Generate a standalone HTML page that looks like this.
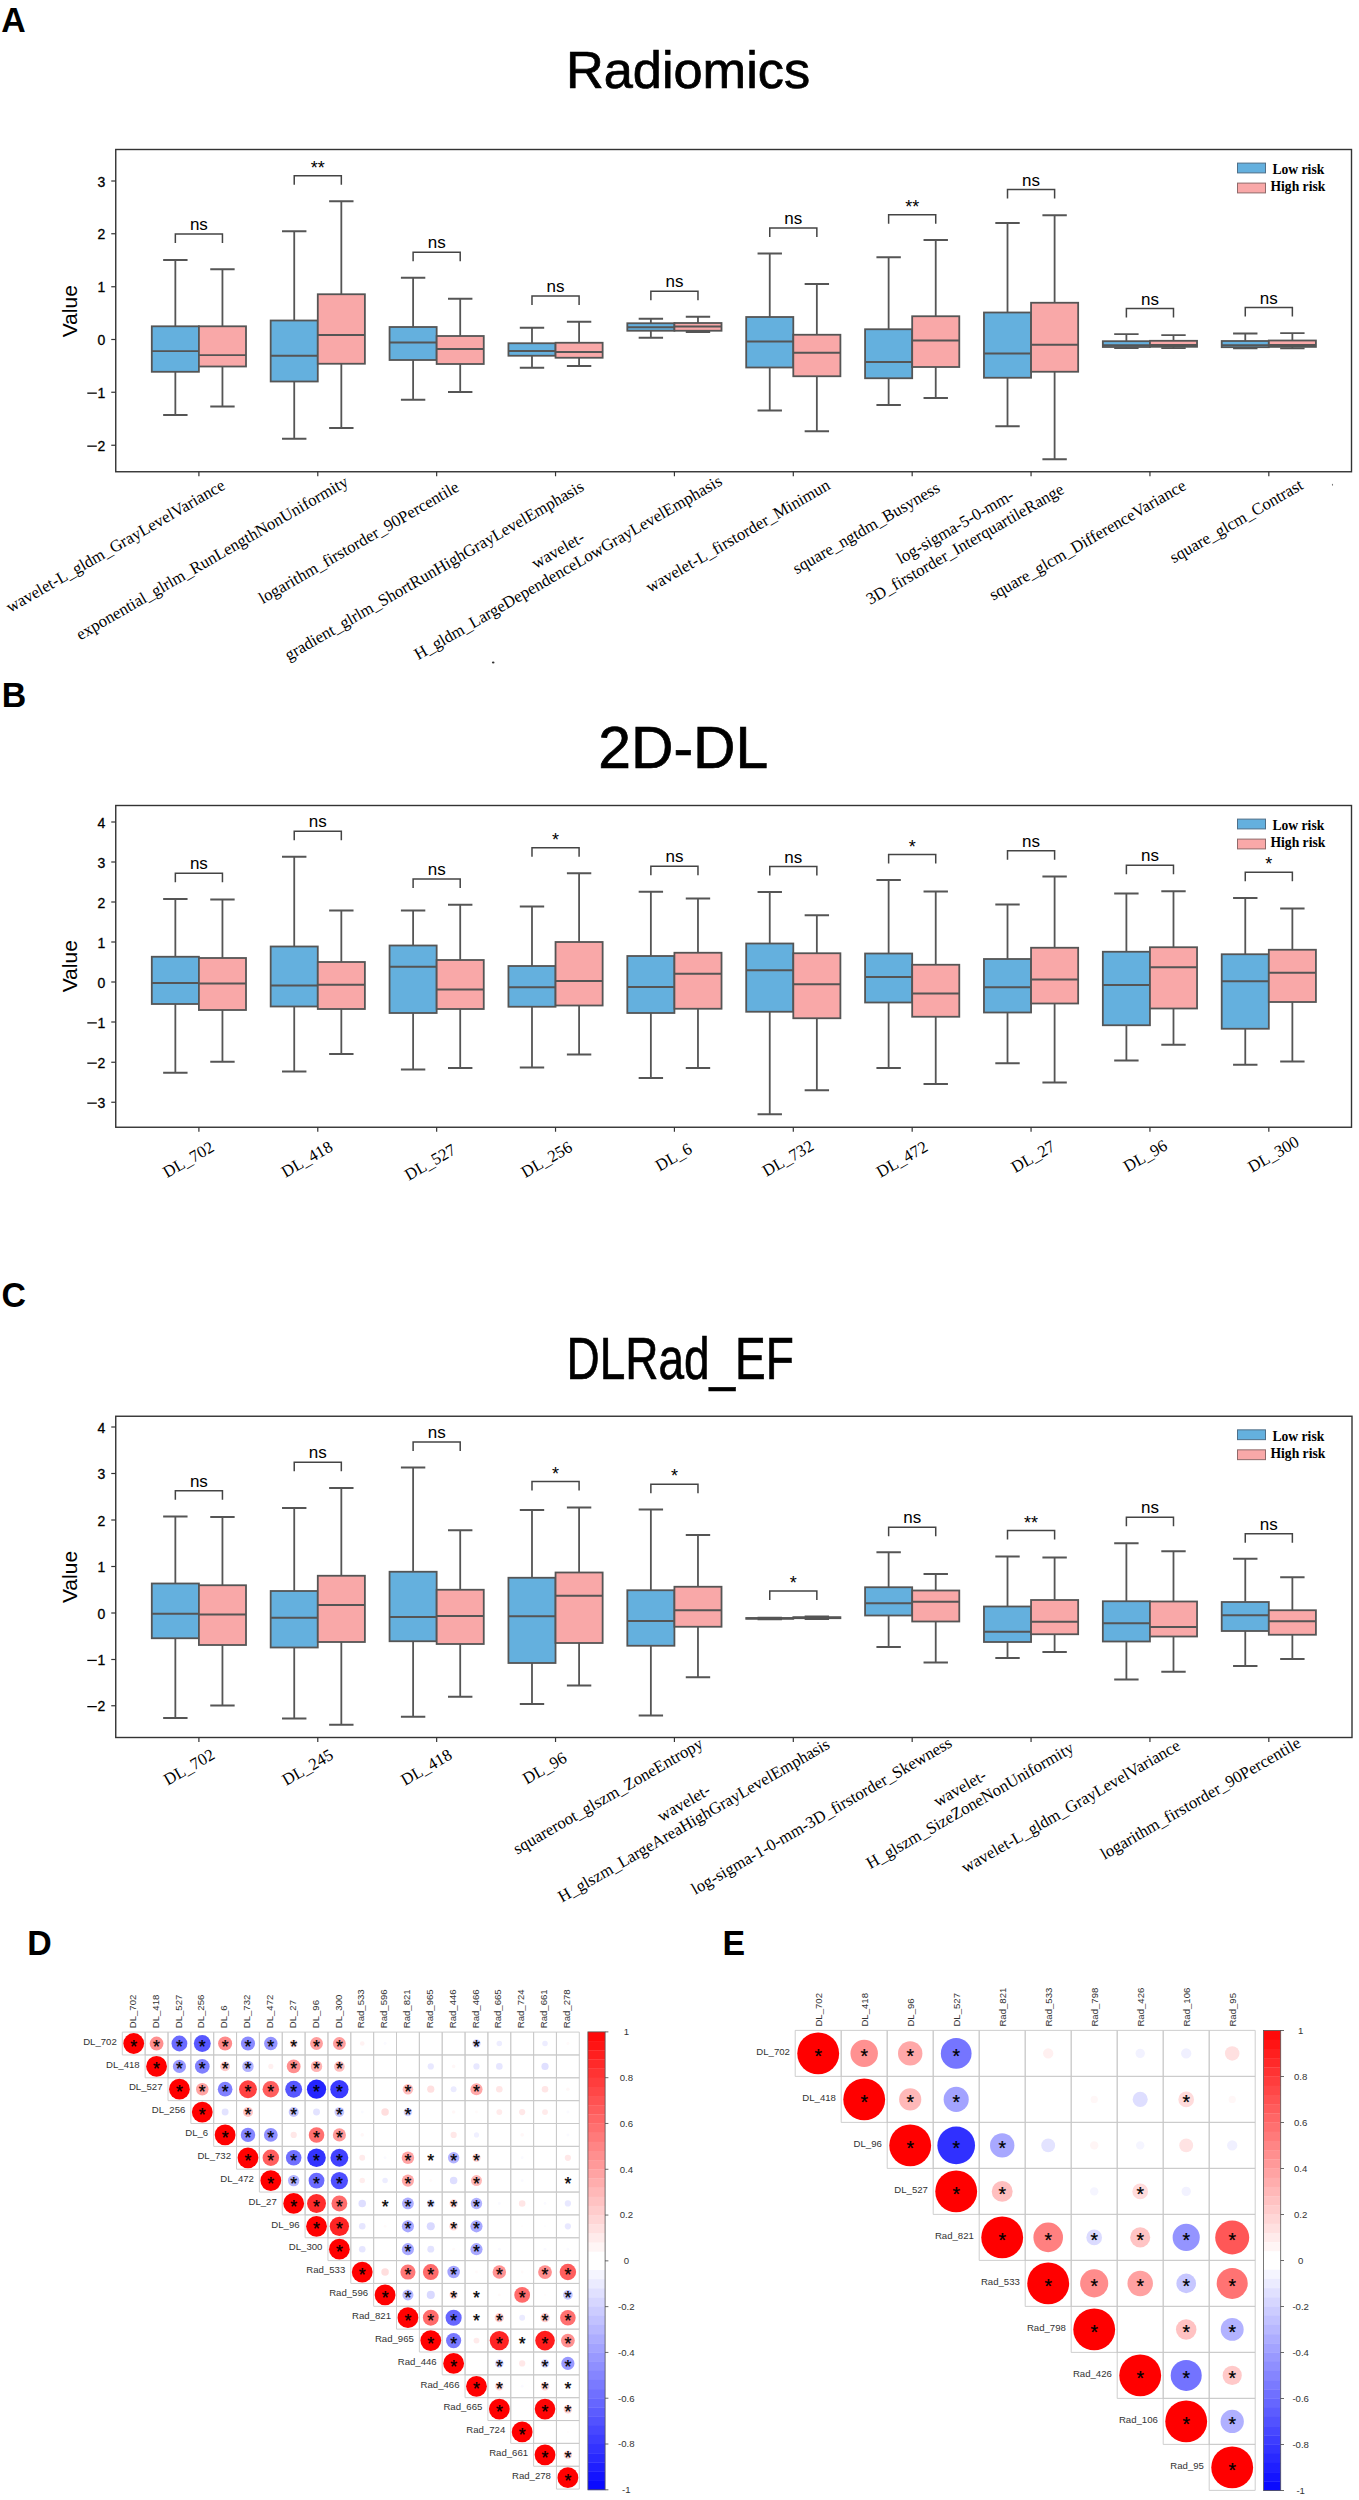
<!DOCTYPE html>
<html><head><meta charset="utf-8"><style>
html,body{margin:0;padding:0;background:#fff;}
svg{display:block;}
</style></head><body>
<svg width="1359" height="2500" viewBox="0 0 1359 2500">
<rect width="1359" height="2500" fill="#fff"/>
<path d="M175.35 326.3V260M163.15 260H187.55M175.35 371.8V415M163.15 415H187.55" stroke="#555555" stroke-width="1.8" fill="none"/><rect x="151.8" y="326.3" width="47.1" height="45.5" fill="#64B0DE" stroke="#555555" stroke-width="1.8"/><path d="M151.8 351.1H198.9" stroke="#555555" stroke-width="1.8"/>
<path d="M222.45 326.3V269.25M210.25 269.25H234.65M222.45 366.5V406.5M210.25 406.5H234.65" stroke="#555555" stroke-width="1.8" fill="none"/><rect x="198.9" y="326.3" width="47.1" height="40.2" fill="#F9A8A8" stroke="#555555" stroke-width="1.8"/><path d="M198.9 355.2H246" stroke="#555555" stroke-width="1.8"/>
<path d="M175.35 243V234H222.45V243" stroke="#444" stroke-width="1.5" fill="none"/>
<text x="198.9" y="230" text-anchor="middle" font-size="17" font-family='"Liberation Sans", sans-serif'>ns</text>
<path d="M294.23 320.5V231.25M282.03 231.25H306.43M294.23 381.5V438.75M282.03 438.75H306.43" stroke="#555555" stroke-width="1.8" fill="none"/><rect x="270.68" y="320.5" width="47.1" height="61" fill="#64B0DE" stroke="#555555" stroke-width="1.8"/><path d="M270.68 355.75H317.78" stroke="#555555" stroke-width="1.8"/>
<path d="M341.33 294.25V201.25M329.13 201.25H353.53M341.33 363.75V428M329.13 428H353.53" stroke="#555555" stroke-width="1.8" fill="none"/><rect x="317.78" y="294.25" width="47.1" height="69.5" fill="#F9A8A8" stroke="#555555" stroke-width="1.8"/><path d="M317.78 335H364.88" stroke="#555555" stroke-width="1.8"/>
<path d="M294.23 184.75V175.75H341.33V184.75" stroke="#444" stroke-width="1.5" fill="none"/>
<text x="317.78" y="173.95" text-anchor="middle" font-size="18" font-family='"Liberation Sans", sans-serif'>**</text>
<path d="M413.11 327V277.75M400.91 277.75H425.31M413.11 360V399.75M400.91 399.75H425.31" stroke="#555555" stroke-width="1.8" fill="none"/><rect x="389.56" y="327" width="47.1" height="33" fill="#64B0DE" stroke="#555555" stroke-width="1.8"/><path d="M389.56 342.5H436.66" stroke="#555555" stroke-width="1.8"/>
<path d="M460.21 336V298.75M448.01 298.75H472.41M460.21 364V392M448.01 392H472.41" stroke="#555555" stroke-width="1.8" fill="none"/><rect x="436.66" y="336" width="47.1" height="28" fill="#F9A8A8" stroke="#555555" stroke-width="1.8"/><path d="M436.66 349H483.76" stroke="#555555" stroke-width="1.8"/>
<path d="M413.11 261.25V252.25H460.21V261.25" stroke="#444" stroke-width="1.5" fill="none"/>
<text x="436.66" y="248.25" text-anchor="middle" font-size="17" font-family='"Liberation Sans", sans-serif'>ns</text>
<path d="M531.99 343.25V327.75M519.79 327.75H544.19M531.99 355.75V367.75M519.79 367.75H544.19" stroke="#555555" stroke-width="1.8" fill="none"/><rect x="508.44" y="343.25" width="47.1" height="12.5" fill="#64B0DE" stroke="#555555" stroke-width="1.8"/><path d="M508.44 351H555.54" stroke="#555555" stroke-width="1.8"/>
<path d="M579.09 342.75V321.75M566.89 321.75H591.29M579.09 357.75V366M566.89 366H591.29" stroke="#555555" stroke-width="1.8" fill="none"/><rect x="555.54" y="342.75" width="47.1" height="15" fill="#F9A8A8" stroke="#555555" stroke-width="1.8"/><path d="M555.54 352H602.64" stroke="#555555" stroke-width="1.8"/>
<path d="M531.99 305V296H579.09V305" stroke="#444" stroke-width="1.5" fill="none"/>
<text x="555.54" y="292" text-anchor="middle" font-size="17" font-family='"Liberation Sans", sans-serif'>ns</text>
<path d="M650.87 323.25V318.75M638.67 318.75H663.07M650.87 330.75V337.75M638.67 337.75H663.07" stroke="#555555" stroke-width="1.8" fill="none"/><rect x="627.32" y="323.25" width="47.1" height="7.5" fill="#64B0DE" stroke="#555555" stroke-width="1.8"/><path d="M627.32 327.25H674.42" stroke="#555555" stroke-width="1.8"/>
<path d="M697.97 323V316.75M685.77 316.75H710.17M697.97 330.75V332M685.77 332H710.17" stroke="#555555" stroke-width="1.8" fill="none"/><rect x="674.42" y="323" width="47.1" height="7.75" fill="#F9A8A8" stroke="#555555" stroke-width="1.8"/><path d="M674.42 326.5H721.52" stroke="#555555" stroke-width="1.8"/>
<path d="M650.87 300.25V291.25H697.97V300.25" stroke="#444" stroke-width="1.5" fill="none"/>
<text x="674.42" y="287.25" text-anchor="middle" font-size="17" font-family='"Liberation Sans", sans-serif'>ns</text>
<path d="M769.75 317V253.5M757.55 253.5H781.95M769.75 367.5V410.5M757.55 410.5H781.95" stroke="#555555" stroke-width="1.8" fill="none"/><rect x="746.2" y="317" width="47.1" height="50.5" fill="#64B0DE" stroke="#555555" stroke-width="1.8"/><path d="M746.2 341.5H793.3" stroke="#555555" stroke-width="1.8"/>
<path d="M816.85 334.75V284M804.65 284H829.05M816.85 376.25V431.25M804.65 431.25H829.05" stroke="#555555" stroke-width="1.8" fill="none"/><rect x="793.3" y="334.75" width="47.1" height="41.5" fill="#F9A8A8" stroke="#555555" stroke-width="1.8"/><path d="M793.3 352.75H840.4" stroke="#555555" stroke-width="1.8"/>
<path d="M769.75 237V228H816.85V237" stroke="#444" stroke-width="1.5" fill="none"/>
<text x="793.3" y="224" text-anchor="middle" font-size="17" font-family='"Liberation Sans", sans-serif'>ns</text>
<path d="M888.63 329.25V257.25M876.43 257.25H900.83M888.63 378.25V405M876.43 405H900.83" stroke="#555555" stroke-width="1.8" fill="none"/><rect x="865.08" y="329.25" width="47.1" height="49" fill="#64B0DE" stroke="#555555" stroke-width="1.8"/><path d="M865.08 362H912.18" stroke="#555555" stroke-width="1.8"/>
<path d="M935.73 316.25V240M923.53 240H947.93M935.73 367V398M923.53 398H947.93" stroke="#555555" stroke-width="1.8" fill="none"/><rect x="912.18" y="316.25" width="47.1" height="50.75" fill="#F9A8A8" stroke="#555555" stroke-width="1.8"/><path d="M912.18 340.5H959.28" stroke="#555555" stroke-width="1.8"/>
<path d="M888.63 223.75V214.75H935.73V223.75" stroke="#444" stroke-width="1.5" fill="none"/>
<text x="912.18" y="212.95" text-anchor="middle" font-size="18" font-family='"Liberation Sans", sans-serif'>**</text>
<path d="M1007.51 312.5V223M995.31 223H1019.71M1007.51 377.75V426.25M995.31 426.25H1019.71" stroke="#555555" stroke-width="1.8" fill="none"/><rect x="983.96" y="312.5" width="47.1" height="65.25" fill="#64B0DE" stroke="#555555" stroke-width="1.8"/><path d="M983.96 353.5H1031.06" stroke="#555555" stroke-width="1.8"/>
<path d="M1054.61 302.75V215.25M1042.41 215.25H1066.81M1054.61 371.75V459.25M1042.41 459.25H1066.81" stroke="#555555" stroke-width="1.8" fill="none"/><rect x="1031.06" y="302.75" width="47.1" height="69" fill="#F9A8A8" stroke="#555555" stroke-width="1.8"/><path d="M1031.06 344.75H1078.16" stroke="#555555" stroke-width="1.8"/>
<path d="M1007.51 198.5V189.5H1054.61V198.5" stroke="#444" stroke-width="1.5" fill="none"/>
<text x="1031.06" y="185.5" text-anchor="middle" font-size="17" font-family='"Liberation Sans", sans-serif'>ns</text>
<path d="M1126.39 341.2V334.1M1114.19 334.1H1138.59M1126.39 347V348.2M1114.19 348.2H1138.59" stroke="#555555" stroke-width="1.8" fill="none"/><rect x="1102.84" y="341.2" width="47.1" height="5.8" fill="#64B0DE" stroke="#555555" stroke-width="1.8"/><path d="M1102.84 345.2H1149.94" stroke="#555555" stroke-width="1.8"/>
<path d="M1173.49 340.8V335.1M1161.29 335.1H1185.69M1173.49 346.8V348.2M1161.29 348.2H1185.69" stroke="#555555" stroke-width="1.8" fill="none"/><rect x="1149.94" y="340.8" width="47.1" height="6" fill="#F9A8A8" stroke="#555555" stroke-width="1.8"/><path d="M1149.94 345H1197.04" stroke="#555555" stroke-width="1.8"/>
<path d="M1126.39 317.5V308.5H1173.49V317.5" stroke="#444" stroke-width="1.5" fill="none"/>
<text x="1149.94" y="304.5" text-anchor="middle" font-size="17" font-family='"Liberation Sans", sans-serif'>ns</text>
<path d="M1245.27 341V333.5M1233.07 333.5H1257.47M1245.27 347.2V348.4M1233.07 348.4H1257.47" stroke="#555555" stroke-width="1.8" fill="none"/><rect x="1221.72" y="341" width="47.1" height="6.2" fill="#64B0DE" stroke="#555555" stroke-width="1.8"/><path d="M1221.72 345.2H1268.82" stroke="#555555" stroke-width="1.8"/>
<path d="M1292.37 340.5V333.1M1280.17 333.1H1304.57M1292.37 346.9V348.4M1280.17 348.4H1304.57" stroke="#555555" stroke-width="1.8" fill="none"/><rect x="1268.82" y="340.5" width="47.1" height="6.4" fill="#F9A8A8" stroke="#555555" stroke-width="1.8"/><path d="M1268.82 345H1315.92" stroke="#555555" stroke-width="1.8"/>
<path d="M1245.27 316.5V307.5H1292.37V316.5" stroke="#444" stroke-width="1.5" fill="none"/>
<text x="1268.82" y="303.5" text-anchor="middle" font-size="17" font-family='"Liberation Sans", sans-serif'>ns</text>
<rect x="115.75" y="149.5" width="1235.75" height="322.25" fill="none" stroke="#333333" stroke-width="1.4"/>
<path d="M198.9 471.75v4.5" stroke="#333333" stroke-width="1.2"/>
<path d="M317.78 471.75v4.5" stroke="#333333" stroke-width="1.2"/>
<path d="M436.66 471.75v4.5" stroke="#333333" stroke-width="1.2"/>
<path d="M555.54 471.75v4.5" stroke="#333333" stroke-width="1.2"/>
<path d="M674.42 471.75v4.5" stroke="#333333" stroke-width="1.2"/>
<path d="M793.3 471.75v4.5" stroke="#333333" stroke-width="1.2"/>
<path d="M912.18 471.75v4.5" stroke="#333333" stroke-width="1.2"/>
<path d="M1031.06 471.75v4.5" stroke="#333333" stroke-width="1.2"/>
<path d="M1149.94 471.75v4.5" stroke="#333333" stroke-width="1.2"/>
<path d="M1268.82 471.75v4.5" stroke="#333333" stroke-width="1.2"/>
<path d="M115.75 181h-4.5" stroke="#333333" stroke-width="1.2"/>
<text x="105.3" y="186.5" text-anchor="end" font-size="14" stroke="#000" stroke-width="0.3" font-family='"Liberation Sans", sans-serif'>3</text>
<path d="M115.75 233.75h-4.5" stroke="#333333" stroke-width="1.2"/>
<text x="105.3" y="239.25" text-anchor="end" font-size="14" stroke="#000" stroke-width="0.3" font-family='"Liberation Sans", sans-serif'>2</text>
<path d="M115.75 286.75h-4.5" stroke="#333333" stroke-width="1.2"/>
<text x="105.3" y="292.25" text-anchor="end" font-size="14" stroke="#000" stroke-width="0.3" font-family='"Liberation Sans", sans-serif'>1</text>
<path d="M115.75 339.5h-4.5" stroke="#333333" stroke-width="1.2"/>
<text x="105.3" y="345" text-anchor="end" font-size="14" stroke="#000" stroke-width="0.3" font-family='"Liberation Sans", sans-serif'>0</text>
<path d="M115.75 392.25h-4.5" stroke="#333333" stroke-width="1.2"/>
<text x="105.3" y="397.75" text-anchor="end" font-size="14" stroke="#000" stroke-width="0.3" font-family='"Liberation Sans", sans-serif'>1</text>
<path d="M87.3 393.15H96.8" stroke="#000" stroke-width="1.3"/>
<path d="M115.75 445.25h-4.5" stroke="#333333" stroke-width="1.2"/>
<text x="105.3" y="450.75" text-anchor="end" font-size="14" stroke="#000" stroke-width="0.3" font-family='"Liberation Sans", sans-serif'>2</text>
<path d="M87.3 446.15H96.8" stroke="#000" stroke-width="1.3"/>
<text transform="translate(77.3 311.25) rotate(-90)" text-anchor="middle" font-size="21" font-family='"Liberation Sans", sans-serif'>Value</text>
<rect x="1237.5" y="163.1" width="28" height="9.8" fill="#64B0DE" stroke="#4f6f88" stroke-width="1"/>
<rect x="1237.5" y="183.1" width="28" height="9.8" fill="#F9A8A8" stroke="#8f6a6a" stroke-width="1"/>
<text x="1272.5" y="174.3" font-size="13.6" font-weight="bold" font-family='"Liberation Serif", serif'>Low risk</text>
<text x="1270.5" y="191.1" font-size="13.6" font-weight="bold" font-family='"Liberation Serif", serif'>High risk</text>
<text transform="translate(688 87.9) scale(1.016 1)" text-anchor="middle" font-size="51.5" stroke="#000" stroke-width="0.7" font-family='"Liberation Sans", sans-serif'>Radiomics</text>
<text transform="translate(1.2 31.5) scale(0.96 1)" font-size="35.3" font-weight="bold" font-family='"Liberation Sans", sans-serif'>A</text>
<path d="M175.35 956.75V899M163.15 899H187.55M175.35 1004V1072.75M163.15 1072.75H187.55" stroke="#555555" stroke-width="1.8" fill="none"/><rect x="151.8" y="956.75" width="47.1" height="47.25" fill="#64B0DE" stroke="#555555" stroke-width="1.8"/><path d="M151.8 983H198.9" stroke="#555555" stroke-width="1.8"/>
<path d="M222.45 958V899.5M210.25 899.5H234.65M222.45 1010V1061.75M210.25 1061.75H234.65" stroke="#555555" stroke-width="1.8" fill="none"/><rect x="198.9" y="958" width="47.1" height="52" fill="#F9A8A8" stroke="#555555" stroke-width="1.8"/><path d="M198.9 983.5H246" stroke="#555555" stroke-width="1.8"/>
<path d="M175.35 882.25V873.25H222.45V882.25" stroke="#444" stroke-width="1.5" fill="none"/>
<text x="198.9" y="869.25" text-anchor="middle" font-size="17" font-family='"Liberation Sans", sans-serif'>ns</text>
<path d="M294.23 946.5V856.75M282.03 856.75H306.43M294.23 1006.5V1071.5M282.03 1071.5H306.43" stroke="#555555" stroke-width="1.8" fill="none"/><rect x="270.68" y="946.5" width="47.1" height="60" fill="#64B0DE" stroke="#555555" stroke-width="1.8"/><path d="M270.68 985.5H317.78" stroke="#555555" stroke-width="1.8"/>
<path d="M341.33 962V910.5M329.13 910.5H353.53M341.33 1009V1054M329.13 1054H353.53" stroke="#555555" stroke-width="1.8" fill="none"/><rect x="317.78" y="962" width="47.1" height="47" fill="#F9A8A8" stroke="#555555" stroke-width="1.8"/><path d="M317.78 984.75H364.88" stroke="#555555" stroke-width="1.8"/>
<path d="M294.23 840.25V831.25H341.33V840.25" stroke="#444" stroke-width="1.5" fill="none"/>
<text x="317.78" y="827.25" text-anchor="middle" font-size="17" font-family='"Liberation Sans", sans-serif'>ns</text>
<path d="M413.11 945.5V910.5M400.91 910.5H425.31M413.11 1013V1069.5M400.91 1069.5H425.31" stroke="#555555" stroke-width="1.8" fill="none"/><rect x="389.56" y="945.5" width="47.1" height="67.5" fill="#64B0DE" stroke="#555555" stroke-width="1.8"/><path d="M389.56 966.75H436.66" stroke="#555555" stroke-width="1.8"/>
<path d="M460.21 960V904.75M448.01 904.75H472.41M460.21 1009V1068M448.01 1068H472.41" stroke="#555555" stroke-width="1.8" fill="none"/><rect x="436.66" y="960" width="47.1" height="49" fill="#F9A8A8" stroke="#555555" stroke-width="1.8"/><path d="M436.66 989.5H483.76" stroke="#555555" stroke-width="1.8"/>
<path d="M413.11 888V879H460.21V888" stroke="#444" stroke-width="1.5" fill="none"/>
<text x="436.66" y="875" text-anchor="middle" font-size="17" font-family='"Liberation Sans", sans-serif'>ns</text>
<path d="M531.99 966V906.5M519.79 906.5H544.19M531.99 1006.75V1067.5M519.79 1067.5H544.19" stroke="#555555" stroke-width="1.8" fill="none"/><rect x="508.44" y="966" width="47.1" height="40.75" fill="#64B0DE" stroke="#555555" stroke-width="1.8"/><path d="M508.44 987.25H555.54" stroke="#555555" stroke-width="1.8"/>
<path d="M579.09 942V873.25M566.89 873.25H591.29M579.09 1005.5V1054.5M566.89 1054.5H591.29" stroke="#555555" stroke-width="1.8" fill="none"/><rect x="555.54" y="942" width="47.1" height="63.5" fill="#F9A8A8" stroke="#555555" stroke-width="1.8"/><path d="M555.54 981H602.64" stroke="#555555" stroke-width="1.8"/>
<path d="M531.99 856.75V847.75H579.09V856.75" stroke="#444" stroke-width="1.5" fill="none"/>
<text x="555.54" y="845.95" text-anchor="middle" font-size="18" font-family='"Liberation Sans", sans-serif'>*</text>
<path d="M650.87 956V891.75M638.67 891.75H663.07M650.87 1013V1078M638.67 1078H663.07" stroke="#555555" stroke-width="1.8" fill="none"/><rect x="627.32" y="956" width="47.1" height="57" fill="#64B0DE" stroke="#555555" stroke-width="1.8"/><path d="M627.32 987H674.42" stroke="#555555" stroke-width="1.8"/>
<path d="M697.97 952.75V898.5M685.77 898.5H710.17M697.97 1008.75V1068M685.77 1068H710.17" stroke="#555555" stroke-width="1.8" fill="none"/><rect x="674.42" y="952.75" width="47.1" height="56" fill="#F9A8A8" stroke="#555555" stroke-width="1.8"/><path d="M674.42 973.75H721.52" stroke="#555555" stroke-width="1.8"/>
<path d="M650.87 875.25V866.25H697.97V875.25" stroke="#444" stroke-width="1.5" fill="none"/>
<text x="674.42" y="862.25" text-anchor="middle" font-size="17" font-family='"Liberation Sans", sans-serif'>ns</text>
<path d="M769.75 943.5V892M757.55 892H781.95M769.75 1011.75V1114.25M757.55 1114.25H781.95" stroke="#555555" stroke-width="1.8" fill="none"/><rect x="746.2" y="943.5" width="47.1" height="68.25" fill="#64B0DE" stroke="#555555" stroke-width="1.8"/><path d="M746.2 970.25H793.3" stroke="#555555" stroke-width="1.8"/>
<path d="M816.85 953.25V915.25M804.65 915.25H829.05M816.85 1018.25V1090.25M804.65 1090.25H829.05" stroke="#555555" stroke-width="1.8" fill="none"/><rect x="793.3" y="953.25" width="47.1" height="65" fill="#F9A8A8" stroke="#555555" stroke-width="1.8"/><path d="M793.3 984.25H840.4" stroke="#555555" stroke-width="1.8"/>
<path d="M769.75 875.5V866.5H816.85V875.5" stroke="#444" stroke-width="1.5" fill="none"/>
<text x="793.3" y="862.5" text-anchor="middle" font-size="17" font-family='"Liberation Sans", sans-serif'>ns</text>
<path d="M888.63 953.5V880M876.43 880H900.83M888.63 1002.5V1068M876.43 1068H900.83" stroke="#555555" stroke-width="1.8" fill="none"/><rect x="865.08" y="953.5" width="47.1" height="49" fill="#64B0DE" stroke="#555555" stroke-width="1.8"/><path d="M865.08 977H912.18" stroke="#555555" stroke-width="1.8"/>
<path d="M935.73 964.75V891.5M923.53 891.5H947.93M935.73 1016.75V1084M923.53 1084H947.93" stroke="#555555" stroke-width="1.8" fill="none"/><rect x="912.18" y="964.75" width="47.1" height="52" fill="#F9A8A8" stroke="#555555" stroke-width="1.8"/><path d="M912.18 993.5H959.28" stroke="#555555" stroke-width="1.8"/>
<path d="M888.63 863.5V854.5H935.73V863.5" stroke="#444" stroke-width="1.5" fill="none"/>
<text x="912.18" y="852.7" text-anchor="middle" font-size="18" font-family='"Liberation Sans", sans-serif'>*</text>
<path d="M1007.51 959V904.5M995.31 904.5H1019.71M1007.51 1012.5V1063.25M995.31 1063.25H1019.71" stroke="#555555" stroke-width="1.8" fill="none"/><rect x="983.96" y="959" width="47.1" height="53.5" fill="#64B0DE" stroke="#555555" stroke-width="1.8"/><path d="M983.96 987.25H1031.06" stroke="#555555" stroke-width="1.8"/>
<path d="M1054.61 947.75V876.5M1042.41 876.5H1066.81M1054.61 1003.5V1082.5M1042.41 1082.5H1066.81" stroke="#555555" stroke-width="1.8" fill="none"/><rect x="1031.06" y="947.75" width="47.1" height="55.75" fill="#F9A8A8" stroke="#555555" stroke-width="1.8"/><path d="M1031.06 979.5H1078.16" stroke="#555555" stroke-width="1.8"/>
<path d="M1007.51 859.75V850.75H1054.61V859.75" stroke="#444" stroke-width="1.5" fill="none"/>
<text x="1031.06" y="846.75" text-anchor="middle" font-size="17" font-family='"Liberation Sans", sans-serif'>ns</text>
<path d="M1126.39 951.75V893.5M1114.19 893.5H1138.59M1126.39 1025.25V1060.5M1114.19 1060.5H1138.59" stroke="#555555" stroke-width="1.8" fill="none"/><rect x="1102.84" y="951.75" width="47.1" height="73.5" fill="#64B0DE" stroke="#555555" stroke-width="1.8"/><path d="M1102.84 985H1149.94" stroke="#555555" stroke-width="1.8"/>
<path d="M1173.49 947.25V891.25M1161.29 891.25H1185.69M1173.49 1008.5V1044.75M1161.29 1044.75H1185.69" stroke="#555555" stroke-width="1.8" fill="none"/><rect x="1149.94" y="947.25" width="47.1" height="61.25" fill="#F9A8A8" stroke="#555555" stroke-width="1.8"/><path d="M1149.94 967.25H1197.04" stroke="#555555" stroke-width="1.8"/>
<path d="M1126.39 874.25V865.25H1173.49V874.25" stroke="#444" stroke-width="1.5" fill="none"/>
<text x="1149.94" y="861.25" text-anchor="middle" font-size="17" font-family='"Liberation Sans", sans-serif'>ns</text>
<path d="M1245.27 954.25V898M1233.07 898H1257.47M1245.27 1028.75V1064.75M1233.07 1064.75H1257.47" stroke="#555555" stroke-width="1.8" fill="none"/><rect x="1221.72" y="954.25" width="47.1" height="74.5" fill="#64B0DE" stroke="#555555" stroke-width="1.8"/><path d="M1221.72 981.25H1268.82" stroke="#555555" stroke-width="1.8"/>
<path d="M1292.37 949.75V908.5M1280.17 908.5H1304.57M1292.37 1002V1061.5M1280.17 1061.5H1304.57" stroke="#555555" stroke-width="1.8" fill="none"/><rect x="1268.82" y="949.75" width="47.1" height="52.25" fill="#F9A8A8" stroke="#555555" stroke-width="1.8"/><path d="M1268.82 972.75H1315.92" stroke="#555555" stroke-width="1.8"/>
<path d="M1245.27 881.25V872.25H1292.37V881.25" stroke="#444" stroke-width="1.5" fill="none"/>
<text x="1268.82" y="870.45" text-anchor="middle" font-size="18" font-family='"Liberation Sans", sans-serif'>*</text>
<rect x="115.75" y="805.5" width="1235.75" height="321.75" fill="none" stroke="#333333" stroke-width="1.4"/>
<path d="M198.9 1127.25v4.5" stroke="#333333" stroke-width="1.2"/>
<path d="M317.78 1127.25v4.5" stroke="#333333" stroke-width="1.2"/>
<path d="M436.66 1127.25v4.5" stroke="#333333" stroke-width="1.2"/>
<path d="M555.54 1127.25v4.5" stroke="#333333" stroke-width="1.2"/>
<path d="M674.42 1127.25v4.5" stroke="#333333" stroke-width="1.2"/>
<path d="M793.3 1127.25v4.5" stroke="#333333" stroke-width="1.2"/>
<path d="M912.18 1127.25v4.5" stroke="#333333" stroke-width="1.2"/>
<path d="M1031.06 1127.25v4.5" stroke="#333333" stroke-width="1.2"/>
<path d="M1149.94 1127.25v4.5" stroke="#333333" stroke-width="1.2"/>
<path d="M1268.82 1127.25v4.5" stroke="#333333" stroke-width="1.2"/>
<path d="M115.75 822h-4.5" stroke="#333333" stroke-width="1.2"/>
<text x="105.3" y="827.5" text-anchor="end" font-size="14" stroke="#000" stroke-width="0.3" font-family='"Liberation Sans", sans-serif'>4</text>
<path d="M115.75 862h-4.5" stroke="#333333" stroke-width="1.2"/>
<text x="105.3" y="867.5" text-anchor="end" font-size="14" stroke="#000" stroke-width="0.3" font-family='"Liberation Sans", sans-serif'>3</text>
<path d="M115.75 902h-4.5" stroke="#333333" stroke-width="1.2"/>
<text x="105.3" y="907.5" text-anchor="end" font-size="14" stroke="#000" stroke-width="0.3" font-family='"Liberation Sans", sans-serif'>2</text>
<path d="M115.75 942h-4.5" stroke="#333333" stroke-width="1.2"/>
<text x="105.3" y="947.5" text-anchor="end" font-size="14" stroke="#000" stroke-width="0.3" font-family='"Liberation Sans", sans-serif'>1</text>
<path d="M115.75 982h-4.5" stroke="#333333" stroke-width="1.2"/>
<text x="105.3" y="987.5" text-anchor="end" font-size="14" stroke="#000" stroke-width="0.3" font-family='"Liberation Sans", sans-serif'>0</text>
<path d="M115.75 1022h-4.5" stroke="#333333" stroke-width="1.2"/>
<text x="105.3" y="1027.5" text-anchor="end" font-size="14" stroke="#000" stroke-width="0.3" font-family='"Liberation Sans", sans-serif'>1</text>
<path d="M87.3 1022.9H96.8" stroke="#000" stroke-width="1.3"/>
<path d="M115.75 1062.25h-4.5" stroke="#333333" stroke-width="1.2"/>
<text x="105.3" y="1067.75" text-anchor="end" font-size="14" stroke="#000" stroke-width="0.3" font-family='"Liberation Sans", sans-serif'>2</text>
<path d="M87.3 1063.15H96.8" stroke="#000" stroke-width="1.3"/>
<path d="M115.75 1102.25h-4.5" stroke="#333333" stroke-width="1.2"/>
<text x="105.3" y="1107.75" text-anchor="end" font-size="14" stroke="#000" stroke-width="0.3" font-family='"Liberation Sans", sans-serif'>3</text>
<path d="M87.3 1103.15H96.8" stroke="#000" stroke-width="1.3"/>
<text transform="translate(77.3 966.25) rotate(-90)" text-anchor="middle" font-size="21" font-family='"Liberation Sans", sans-serif'>Value</text>
<rect x="1237.5" y="819.1" width="28" height="9.8" fill="#64B0DE" stroke="#4f6f88" stroke-width="1"/>
<rect x="1237.5" y="839.1" width="28" height="9.8" fill="#F9A8A8" stroke="#8f6a6a" stroke-width="1"/>
<text x="1272.5" y="830.3" font-size="13.6" font-weight="bold" font-family='"Liberation Serif", serif'>Low risk</text>
<text x="1270.5" y="847.1" font-size="13.6" font-weight="bold" font-family='"Liberation Serif", serif'>High risk</text>
<text transform="translate(683.2 767.5) scale(1.0 1)" text-anchor="middle" font-size="58.8" stroke="#000" stroke-width="0.7" font-family='"Liberation Sans", sans-serif'>2D-DL</text>
<text transform="translate(1.8 706.9) scale(0.96 1)" font-size="35.3" font-weight="bold" font-family='"Liberation Sans", sans-serif'>B</text>
<path d="M175.35 1583.5V1516.5M163.15 1516.5H187.55M175.35 1638.25V1718M163.15 1718H187.55" stroke="#555555" stroke-width="1.8" fill="none"/><rect x="151.8" y="1583.5" width="47.1" height="54.75" fill="#64B0DE" stroke="#555555" stroke-width="1.8"/><path d="M151.8 1613.75H198.9" stroke="#555555" stroke-width="1.8"/>
<path d="M222.45 1585.25V1517M210.25 1517H234.65M222.45 1645V1705.5M210.25 1705.5H234.65" stroke="#555555" stroke-width="1.8" fill="none"/><rect x="198.9" y="1585.25" width="47.1" height="59.75" fill="#F9A8A8" stroke="#555555" stroke-width="1.8"/><path d="M198.9 1614.5H246" stroke="#555555" stroke-width="1.8"/>
<path d="M175.35 1499.75V1490.75H222.45V1499.75" stroke="#444" stroke-width="1.5" fill="none"/>
<text x="198.9" y="1486.75" text-anchor="middle" font-size="17" font-family='"Liberation Sans", sans-serif'>ns</text>
<path d="M294.23 1591V1508M282.03 1508H306.43M294.23 1647.5V1718.5M282.03 1718.5H306.43" stroke="#555555" stroke-width="1.8" fill="none"/><rect x="270.68" y="1591" width="47.1" height="56.5" fill="#64B0DE" stroke="#555555" stroke-width="1.8"/><path d="M270.68 1617.75H317.78" stroke="#555555" stroke-width="1.8"/>
<path d="M341.33 1575.75V1488M329.13 1488H353.53M341.33 1642V1724.75M329.13 1724.75H353.53" stroke="#555555" stroke-width="1.8" fill="none"/><rect x="317.78" y="1575.75" width="47.1" height="66.25" fill="#F9A8A8" stroke="#555555" stroke-width="1.8"/><path d="M317.78 1605H364.88" stroke="#555555" stroke-width="1.8"/>
<path d="M294.23 1471.25V1462.25H341.33V1471.25" stroke="#444" stroke-width="1.5" fill="none"/>
<text x="317.78" y="1458.25" text-anchor="middle" font-size="17" font-family='"Liberation Sans", sans-serif'>ns</text>
<path d="M413.11 1571.75V1467.5M400.91 1467.5H425.31M413.11 1641.25V1716.75M400.91 1716.75H425.31" stroke="#555555" stroke-width="1.8" fill="none"/><rect x="389.56" y="1571.75" width="47.1" height="69.5" fill="#64B0DE" stroke="#555555" stroke-width="1.8"/><path d="M389.56 1617H436.66" stroke="#555555" stroke-width="1.8"/>
<path d="M460.21 1589.75V1530.25M448.01 1530.25H472.41M460.21 1644V1696.75M448.01 1696.75H472.41" stroke="#555555" stroke-width="1.8" fill="none"/><rect x="436.66" y="1589.75" width="47.1" height="54.25" fill="#F9A8A8" stroke="#555555" stroke-width="1.8"/><path d="M436.66 1616H483.76" stroke="#555555" stroke-width="1.8"/>
<path d="M413.11 1451V1442H460.21V1451" stroke="#444" stroke-width="1.5" fill="none"/>
<text x="436.66" y="1438" text-anchor="middle" font-size="17" font-family='"Liberation Sans", sans-serif'>ns</text>
<path d="M531.99 1577.75V1510M519.79 1510H544.19M531.99 1663V1704M519.79 1704H544.19" stroke="#555555" stroke-width="1.8" fill="none"/><rect x="508.44" y="1577.75" width="47.1" height="85.25" fill="#64B0DE" stroke="#555555" stroke-width="1.8"/><path d="M508.44 1616.25H555.54" stroke="#555555" stroke-width="1.8"/>
<path d="M579.09 1572.5V1507.5M566.89 1507.5H591.29M579.09 1643V1685.5M566.89 1685.5H591.29" stroke="#555555" stroke-width="1.8" fill="none"/><rect x="555.54" y="1572.5" width="47.1" height="70.5" fill="#F9A8A8" stroke="#555555" stroke-width="1.8"/><path d="M555.54 1595.75H602.64" stroke="#555555" stroke-width="1.8"/>
<path d="M531.99 1490.5V1481.5H579.09V1490.5" stroke="#444" stroke-width="1.5" fill="none"/>
<text x="555.54" y="1479.7" text-anchor="middle" font-size="18" font-family='"Liberation Sans", sans-serif'>*</text>
<path d="M650.87 1590.25V1509.5M638.67 1509.5H663.07M650.87 1645.75V1715.5M638.67 1715.5H663.07" stroke="#555555" stroke-width="1.8" fill="none"/><rect x="627.32" y="1590.25" width="47.1" height="55.5" fill="#64B0DE" stroke="#555555" stroke-width="1.8"/><path d="M627.32 1621H674.42" stroke="#555555" stroke-width="1.8"/>
<path d="M697.97 1586.75V1535M685.77 1535H710.17M697.97 1626.75V1677.25M685.77 1677.25H710.17" stroke="#555555" stroke-width="1.8" fill="none"/><rect x="674.42" y="1586.75" width="47.1" height="40" fill="#F9A8A8" stroke="#555555" stroke-width="1.8"/><path d="M674.42 1610.25H721.52" stroke="#555555" stroke-width="1.8"/>
<path d="M650.87 1493.25V1484.25H697.97V1493.25" stroke="#444" stroke-width="1.5" fill="none"/>
<text x="674.42" y="1482.45" text-anchor="middle" font-size="18" font-family='"Liberation Sans", sans-serif'>*</text>
<path d="M769.75 1618V1617.6M757.55 1617.6H781.95M769.75 1618.8V1619.4M757.55 1619.4H781.95" stroke="#555555" stroke-width="1.8" fill="none"/><rect x="746.2" y="1618" width="47.1" height="0.8" fill="#64B0DE" stroke="#555555" stroke-width="1.8"/><path d="M746.2 1618.4H793.3" stroke="#555555" stroke-width="1.8"/>
<path d="M816.85 1617.2V1616.3M804.65 1616.3H829.05M816.85 1618.2V1619.2M804.65 1619.2H829.05" stroke="#555555" stroke-width="1.8" fill="none"/><rect x="793.3" y="1617.2" width="47.1" height="1" fill="#F9A8A8" stroke="#555555" stroke-width="1.8"/><path d="M793.3 1617.7H840.4" stroke="#555555" stroke-width="1.8"/>
<path d="M769.75 1599.9V1590.9H816.85V1599.9" stroke="#444" stroke-width="1.5" fill="none"/>
<text x="793.3" y="1589.1" text-anchor="middle" font-size="18" font-family='"Liberation Sans", sans-serif'>*</text>
<path d="M888.63 1587.25V1552.25M876.43 1552.25H900.83M888.63 1615.5V1647M876.43 1647H900.83" stroke="#555555" stroke-width="1.8" fill="none"/><rect x="865.08" y="1587.25" width="47.1" height="28.25" fill="#64B0DE" stroke="#555555" stroke-width="1.8"/><path d="M865.08 1603.25H912.18" stroke="#555555" stroke-width="1.8"/>
<path d="M935.73 1590.5V1574M923.53 1574H947.93M935.73 1621.5V1662.5M923.53 1662.5H947.93" stroke="#555555" stroke-width="1.8" fill="none"/><rect x="912.18" y="1590.5" width="47.1" height="31" fill="#F9A8A8" stroke="#555555" stroke-width="1.8"/><path d="M912.18 1601.75H959.28" stroke="#555555" stroke-width="1.8"/>
<path d="M888.63 1536.25V1527.25H935.73V1536.25" stroke="#444" stroke-width="1.5" fill="none"/>
<text x="912.18" y="1523.25" text-anchor="middle" font-size="17" font-family='"Liberation Sans", sans-serif'>ns</text>
<path d="M1007.51 1606.5V1556.5M995.31 1556.5H1019.71M1007.51 1642V1658M995.31 1658H1019.71" stroke="#555555" stroke-width="1.8" fill="none"/><rect x="983.96" y="1606.5" width="47.1" height="35.5" fill="#64B0DE" stroke="#555555" stroke-width="1.8"/><path d="M983.96 1631.75H1031.06" stroke="#555555" stroke-width="1.8"/>
<path d="M1054.61 1600V1557.5M1042.41 1557.5H1066.81M1054.61 1634.25V1652M1042.41 1652H1066.81" stroke="#555555" stroke-width="1.8" fill="none"/><rect x="1031.06" y="1600" width="47.1" height="34.25" fill="#F9A8A8" stroke="#555555" stroke-width="1.8"/><path d="M1031.06 1621.75H1078.16" stroke="#555555" stroke-width="1.8"/>
<path d="M1007.51 1539.5V1530.5H1054.61V1539.5" stroke="#444" stroke-width="1.5" fill="none"/>
<text x="1031.06" y="1528.7" text-anchor="middle" font-size="18" font-family='"Liberation Sans", sans-serif'>**</text>
<path d="M1126.39 1601.25V1543.25M1114.19 1543.25H1138.59M1126.39 1641.5V1679.5M1114.19 1679.5H1138.59" stroke="#555555" stroke-width="1.8" fill="none"/><rect x="1102.84" y="1601.25" width="47.1" height="40.25" fill="#64B0DE" stroke="#555555" stroke-width="1.8"/><path d="M1102.84 1623.25H1149.94" stroke="#555555" stroke-width="1.8"/>
<path d="M1173.49 1601.5V1551.25M1161.29 1551.25H1185.69M1173.49 1636.5V1671.75M1161.29 1671.75H1185.69" stroke="#555555" stroke-width="1.8" fill="none"/><rect x="1149.94" y="1601.5" width="47.1" height="35" fill="#F9A8A8" stroke="#555555" stroke-width="1.8"/><path d="M1149.94 1627H1197.04" stroke="#555555" stroke-width="1.8"/>
<path d="M1126.39 1526.25V1517.25H1173.49V1526.25" stroke="#444" stroke-width="1.5" fill="none"/>
<text x="1149.94" y="1513.25" text-anchor="middle" font-size="17" font-family='"Liberation Sans", sans-serif'>ns</text>
<path d="M1245.27 1602V1558.75M1233.07 1558.75H1257.47M1245.27 1631V1666M1233.07 1666H1257.47" stroke="#555555" stroke-width="1.8" fill="none"/><rect x="1221.72" y="1602" width="47.1" height="29" fill="#64B0DE" stroke="#555555" stroke-width="1.8"/><path d="M1221.72 1615.25H1268.82" stroke="#555555" stroke-width="1.8"/>
<path d="M1292.37 1610.25V1577.25M1280.17 1577.25H1304.57M1292.37 1634.75V1659M1280.17 1659H1304.57" stroke="#555555" stroke-width="1.8" fill="none"/><rect x="1268.82" y="1610.25" width="47.1" height="24.5" fill="#F9A8A8" stroke="#555555" stroke-width="1.8"/><path d="M1268.82 1621.25H1315.92" stroke="#555555" stroke-width="1.8"/>
<path d="M1245.27 1542.75V1533.75H1292.37V1542.75" stroke="#444" stroke-width="1.5" fill="none"/>
<text x="1268.82" y="1529.75" text-anchor="middle" font-size="17" font-family='"Liberation Sans", sans-serif'>ns</text>
<rect x="115.75" y="1416.25" width="1236.25" height="321.25" fill="none" stroke="#333333" stroke-width="1.4"/>
<path d="M198.9 1737.5v4.5" stroke="#333333" stroke-width="1.2"/>
<path d="M317.78 1737.5v4.5" stroke="#333333" stroke-width="1.2"/>
<path d="M436.66 1737.5v4.5" stroke="#333333" stroke-width="1.2"/>
<path d="M555.54 1737.5v4.5" stroke="#333333" stroke-width="1.2"/>
<path d="M674.42 1737.5v4.5" stroke="#333333" stroke-width="1.2"/>
<path d="M793.3 1737.5v4.5" stroke="#333333" stroke-width="1.2"/>
<path d="M912.18 1737.5v4.5" stroke="#333333" stroke-width="1.2"/>
<path d="M1031.06 1737.5v4.5" stroke="#333333" stroke-width="1.2"/>
<path d="M1149.94 1737.5v4.5" stroke="#333333" stroke-width="1.2"/>
<path d="M1268.82 1737.5v4.5" stroke="#333333" stroke-width="1.2"/>
<path d="M115.75 1427h-4.5" stroke="#333333" stroke-width="1.2"/>
<text x="105.3" y="1432.5" text-anchor="end" font-size="14" stroke="#000" stroke-width="0.3" font-family='"Liberation Sans", sans-serif'>4</text>
<path d="M115.75 1473.5h-4.5" stroke="#333333" stroke-width="1.2"/>
<text x="105.3" y="1479" text-anchor="end" font-size="14" stroke="#000" stroke-width="0.3" font-family='"Liberation Sans", sans-serif'>3</text>
<path d="M115.75 1520h-4.5" stroke="#333333" stroke-width="1.2"/>
<text x="105.3" y="1525.5" text-anchor="end" font-size="14" stroke="#000" stroke-width="0.3" font-family='"Liberation Sans", sans-serif'>2</text>
<path d="M115.75 1566.5h-4.5" stroke="#333333" stroke-width="1.2"/>
<text x="105.3" y="1572" text-anchor="end" font-size="14" stroke="#000" stroke-width="0.3" font-family='"Liberation Sans", sans-serif'>1</text>
<path d="M115.75 1613h-4.5" stroke="#333333" stroke-width="1.2"/>
<text x="105.3" y="1618.5" text-anchor="end" font-size="14" stroke="#000" stroke-width="0.3" font-family='"Liberation Sans", sans-serif'>0</text>
<path d="M115.75 1659.5h-4.5" stroke="#333333" stroke-width="1.2"/>
<text x="105.3" y="1665" text-anchor="end" font-size="14" stroke="#000" stroke-width="0.3" font-family='"Liberation Sans", sans-serif'>1</text>
<path d="M87.3 1660.4H96.8" stroke="#000" stroke-width="1.3"/>
<path d="M115.75 1705.75h-4.5" stroke="#333333" stroke-width="1.2"/>
<text x="105.3" y="1711.25" text-anchor="end" font-size="14" stroke="#000" stroke-width="0.3" font-family='"Liberation Sans", sans-serif'>2</text>
<path d="M87.3 1706.65H96.8" stroke="#000" stroke-width="1.3"/>
<text transform="translate(77.3 1577) rotate(-90)" text-anchor="middle" font-size="21" font-family='"Liberation Sans", sans-serif'>Value</text>
<rect x="1237.5" y="1429.85" width="28" height="9.8" fill="#64B0DE" stroke="#4f6f88" stroke-width="1"/>
<rect x="1237.5" y="1449.85" width="28" height="9.8" fill="#F9A8A8" stroke="#8f6a6a" stroke-width="1"/>
<text x="1272.5" y="1441.05" font-size="13.6" font-weight="bold" font-family='"Liberation Serif", serif'>Low risk</text>
<text x="1270.5" y="1457.85" font-size="13.6" font-weight="bold" font-family='"Liberation Serif", serif'>High risk</text>
<text transform="translate(680.15 1378.6) scale(0.783 1)" text-anchor="middle" font-size="58.7" stroke="#000" stroke-width="0.7" font-family='"Liberation Sans", sans-serif'>DLRad_EF</text>
<text transform="translate(1.4 1307.4) scale(0.96 1)" font-size="35.3" font-weight="bold" font-family='"Liberation Sans", sans-serif'>C</text>
<ellipse cx="493.2" cy="662.5" rx="1.3" ry="0.9" fill="#333"/>
<ellipse cx="1332.5" cy="484.8" rx="0.6" ry="1.0" fill="#777"/>
<text transform="translate(226.15 488.45) rotate(-30.0)" text-anchor="end" font-size="16.75" font-family='"Liberation Serif", serif'>wavelet-L_gldm_GrayLevelVariance</text>
<text transform="translate(349.4 485) rotate(-30.0)" text-anchor="end" font-size="16.75" font-family='"Liberation Serif", serif'>exponential_glrlm_RunLengthNonUniformity</text>
<text transform="translate(460.15 490.2) rotate(-30.0)" text-anchor="end" font-size="16.75" font-family='"Liberation Serif", serif'>logarithm_firstorder_90Percentile</text>
<text transform="translate(585.15 489.8) rotate(-30.0)" text-anchor="end" font-size="16.75" font-family='"Liberation Serif", serif'>gradient_glrlm_ShortRunHighGrayLevelEmphasis</text>
<text transform="translate(560.75 554.95) rotate(-30.0)" text-anchor="middle" font-size="16.75" font-family='"Liberation Serif", serif'><tspan x="0" dy="0">wavelet-</tspan><tspan x="0" dy="20.0">H_gldm_LargeDependenceLowGrayLevelEmphasis</tspan></text>
<text transform="translate(831.25 488.4) rotate(-30.0)" text-anchor="end" font-size="16.75" font-family='"Liberation Serif", serif'>wavelet-L_firstorder_Minimun</text>
<text transform="translate(941.05 491.1) rotate(-30.0)" text-anchor="end" font-size="16.75" font-family='"Liberation Serif", serif'>square_ngtdm_Busyness</text>
<text transform="translate(957.8 531.5) rotate(-30.0)" text-anchor="middle" font-size="16.75" font-family='"Liberation Serif", serif'><tspan x="0" dy="0">log-sigma-5-0-mm-</tspan><tspan x="0" dy="20.0">3D_firstorder_InterquartileRange</tspan></text>
<text transform="translate(1187.2 488.9) rotate(-30.0)" text-anchor="end" font-size="16.75" font-family='"Liberation Serif", serif'>square_glcm_DifferenceVariance</text>
<text transform="translate(1304.4 488.15) rotate(-30.0)" text-anchor="end" font-size="16.75" font-family='"Liberation Serif", serif'>square_glcm_Contrast</text>
<text transform="translate(215.25 1150.38) rotate(-30.0)" text-anchor="end" font-size="16.75" font-family='"Liberation Serif", serif'>DL_702</text>
<text transform="translate(333.88 1150) rotate(-30.0)" text-anchor="end" font-size="16.75" font-family='"Liberation Serif", serif'>DL_418</text>
<text transform="translate(457.12 1153) rotate(-30.0)" text-anchor="end" font-size="16.75" font-family='"Liberation Serif", serif'>DL_527</text>
<text transform="translate(573.5 1150.25) rotate(-30.0)" text-anchor="end" font-size="16.75" font-family='"Liberation Serif", serif'>DL_256</text>
<text transform="translate(693.25 1152.12) rotate(-30.0)" text-anchor="end" font-size="16.75" font-family='"Liberation Serif", serif'>DL_6</text>
<text transform="translate(814.88 1149.12) rotate(-30.0)" text-anchor="end" font-size="16.75" font-family='"Liberation Serif", serif'>DL_732</text>
<text transform="translate(928.88 1150.12) rotate(-30.0)" text-anchor="end" font-size="16.75" font-family='"Liberation Serif", serif'>DL_472</text>
<text transform="translate(1056.25 1149.5) rotate(-30.0)" text-anchor="end" font-size="16.75" font-family='"Liberation Serif", serif'>DL_27</text>
<text transform="translate(1168.62 1148.88) rotate(-30.0)" text-anchor="end" font-size="16.75" font-family='"Liberation Serif", serif'>DL_96</text>
<text transform="translate(1300.25 1145.12) rotate(-30.0)" text-anchor="end" font-size="16.75" font-family='"Liberation Serif", serif'>DL_300</text>
<text transform="translate(216 1757.88) rotate(-30.0)" text-anchor="end" font-size="16.75" font-family='"Liberation Serif", serif'>DL_702</text>
<text transform="translate(334.5 1758.12) rotate(-30.0)" text-anchor="end" font-size="16.75" font-family='"Liberation Serif", serif'>DL_245</text>
<text transform="translate(453.25 1758.12) rotate(-30.0)" text-anchor="end" font-size="16.75" font-family='"Liberation Serif", serif'>DL_418</text>
<text transform="translate(567.9 1761.1) rotate(-30.0)" text-anchor="end" font-size="16.75" font-family='"Liberation Serif", serif'>DL_96</text>
<text transform="translate(704.3 1746.75) rotate(-30.0)" text-anchor="end" font-size="16.75" font-family='"Liberation Serif", serif'>squareroot_glszm_ZoneEntropy</text>
<text transform="translate(686.5 1807.75) rotate(-30.0)" text-anchor="middle" font-size="16.75" font-family='"Liberation Serif", serif'><tspan x="0" dy="0">wavelet-</tspan><tspan x="0" dy="20.0">H_glszm_LargeAreaHighGrayLevelEmphasis</tspan></text>
<text transform="translate(953.2 1746.1) rotate(-30.0)" text-anchor="end" font-size="16.75" font-family='"Liberation Serif", serif'>log-sigma-1-0-mm-3D_firstorder_Skewness</text>
<text transform="translate(962.6 1792.95) rotate(-30.0)" text-anchor="middle" font-size="16.75" font-family='"Liberation Serif", serif'><tspan x="0" dy="0">wavelet-</tspan><tspan x="0" dy="20.0">H_glszm_SizeZoneNonUniformity</tspan></text>
<text transform="translate(1181.5 1748.85) rotate(-30.0)" text-anchor="end" font-size="16.75" font-family='"Liberation Serif", serif'>wavelet-L_gldm_GrayLevelVariance</text>
<text transform="translate(1301.85 1746.15) rotate(-30.0)" text-anchor="end" font-size="16.75" font-family='"Liberation Serif", serif'>logarithm_firstorder_90Percentile</text>
<path d="M122.3 2032.1h22.85v22.85h-22.85zM145.15 2032.1h22.85v22.85h-22.85zM168 2032.1h22.85v22.85h-22.85zM190.85 2032.1h22.85v22.85h-22.85zM213.7 2032.1h22.85v22.85h-22.85zM236.55 2032.1h22.85v22.85h-22.85zM259.4 2032.1h22.85v22.85h-22.85zM282.25 2032.1h22.85v22.85h-22.85zM305.1 2032.1h22.85v22.85h-22.85zM327.95 2032.1h22.85v22.85h-22.85zM350.8 2032.1h22.85v22.85h-22.85zM373.65 2032.1h22.85v22.85h-22.85zM396.5 2032.1h22.85v22.85h-22.85zM419.35 2032.1h22.85v22.85h-22.85zM442.2 2032.1h22.85v22.85h-22.85zM465.05 2032.1h22.85v22.85h-22.85zM487.9 2032.1h22.85v22.85h-22.85zM510.75 2032.1h22.85v22.85h-22.85zM533.6 2032.1h22.85v22.85h-22.85zM556.45 2032.1h22.85v22.85h-22.85zM145.15 2054.95h22.85v22.85h-22.85zM168 2054.95h22.85v22.85h-22.85zM190.85 2054.95h22.85v22.85h-22.85zM213.7 2054.95h22.85v22.85h-22.85zM236.55 2054.95h22.85v22.85h-22.85zM259.4 2054.95h22.85v22.85h-22.85zM282.25 2054.95h22.85v22.85h-22.85zM305.1 2054.95h22.85v22.85h-22.85zM327.95 2054.95h22.85v22.85h-22.85zM350.8 2054.95h22.85v22.85h-22.85zM373.65 2054.95h22.85v22.85h-22.85zM396.5 2054.95h22.85v22.85h-22.85zM419.35 2054.95h22.85v22.85h-22.85zM442.2 2054.95h22.85v22.85h-22.85zM465.05 2054.95h22.85v22.85h-22.85zM487.9 2054.95h22.85v22.85h-22.85zM510.75 2054.95h22.85v22.85h-22.85zM533.6 2054.95h22.85v22.85h-22.85zM556.45 2054.95h22.85v22.85h-22.85zM168 2077.8h22.85v22.85h-22.85zM190.85 2077.8h22.85v22.85h-22.85zM213.7 2077.8h22.85v22.85h-22.85zM236.55 2077.8h22.85v22.85h-22.85zM259.4 2077.8h22.85v22.85h-22.85zM282.25 2077.8h22.85v22.85h-22.85zM305.1 2077.8h22.85v22.85h-22.85zM327.95 2077.8h22.85v22.85h-22.85zM350.8 2077.8h22.85v22.85h-22.85zM373.65 2077.8h22.85v22.85h-22.85zM396.5 2077.8h22.85v22.85h-22.85zM419.35 2077.8h22.85v22.85h-22.85zM442.2 2077.8h22.85v22.85h-22.85zM465.05 2077.8h22.85v22.85h-22.85zM487.9 2077.8h22.85v22.85h-22.85zM510.75 2077.8h22.85v22.85h-22.85zM533.6 2077.8h22.85v22.85h-22.85zM556.45 2077.8h22.85v22.85h-22.85zM190.85 2100.65h22.85v22.85h-22.85zM213.7 2100.65h22.85v22.85h-22.85zM236.55 2100.65h22.85v22.85h-22.85zM259.4 2100.65h22.85v22.85h-22.85zM282.25 2100.65h22.85v22.85h-22.85zM305.1 2100.65h22.85v22.85h-22.85zM327.95 2100.65h22.85v22.85h-22.85zM350.8 2100.65h22.85v22.85h-22.85zM373.65 2100.65h22.85v22.85h-22.85zM396.5 2100.65h22.85v22.85h-22.85zM419.35 2100.65h22.85v22.85h-22.85zM442.2 2100.65h22.85v22.85h-22.85zM465.05 2100.65h22.85v22.85h-22.85zM487.9 2100.65h22.85v22.85h-22.85zM510.75 2100.65h22.85v22.85h-22.85zM533.6 2100.65h22.85v22.85h-22.85zM556.45 2100.65h22.85v22.85h-22.85zM213.7 2123.5h22.85v22.85h-22.85zM236.55 2123.5h22.85v22.85h-22.85zM259.4 2123.5h22.85v22.85h-22.85zM282.25 2123.5h22.85v22.85h-22.85zM305.1 2123.5h22.85v22.85h-22.85zM327.95 2123.5h22.85v22.85h-22.85zM350.8 2123.5h22.85v22.85h-22.85zM373.65 2123.5h22.85v22.85h-22.85zM396.5 2123.5h22.85v22.85h-22.85zM419.35 2123.5h22.85v22.85h-22.85zM442.2 2123.5h22.85v22.85h-22.85zM465.05 2123.5h22.85v22.85h-22.85zM487.9 2123.5h22.85v22.85h-22.85zM510.75 2123.5h22.85v22.85h-22.85zM533.6 2123.5h22.85v22.85h-22.85zM556.45 2123.5h22.85v22.85h-22.85zM236.55 2146.35h22.85v22.85h-22.85zM259.4 2146.35h22.85v22.85h-22.85zM282.25 2146.35h22.85v22.85h-22.85zM305.1 2146.35h22.85v22.85h-22.85zM327.95 2146.35h22.85v22.85h-22.85zM350.8 2146.35h22.85v22.85h-22.85zM373.65 2146.35h22.85v22.85h-22.85zM396.5 2146.35h22.85v22.85h-22.85zM419.35 2146.35h22.85v22.85h-22.85zM442.2 2146.35h22.85v22.85h-22.85zM465.05 2146.35h22.85v22.85h-22.85zM487.9 2146.35h22.85v22.85h-22.85zM510.75 2146.35h22.85v22.85h-22.85zM533.6 2146.35h22.85v22.85h-22.85zM556.45 2146.35h22.85v22.85h-22.85zM259.4 2169.2h22.85v22.85h-22.85zM282.25 2169.2h22.85v22.85h-22.85zM305.1 2169.2h22.85v22.85h-22.85zM327.95 2169.2h22.85v22.85h-22.85zM350.8 2169.2h22.85v22.85h-22.85zM373.65 2169.2h22.85v22.85h-22.85zM396.5 2169.2h22.85v22.85h-22.85zM419.35 2169.2h22.85v22.85h-22.85zM442.2 2169.2h22.85v22.85h-22.85zM465.05 2169.2h22.85v22.85h-22.85zM487.9 2169.2h22.85v22.85h-22.85zM510.75 2169.2h22.85v22.85h-22.85zM533.6 2169.2h22.85v22.85h-22.85zM556.45 2169.2h22.85v22.85h-22.85zM282.25 2192.05h22.85v22.85h-22.85zM305.1 2192.05h22.85v22.85h-22.85zM327.95 2192.05h22.85v22.85h-22.85zM350.8 2192.05h22.85v22.85h-22.85zM373.65 2192.05h22.85v22.85h-22.85zM396.5 2192.05h22.85v22.85h-22.85zM419.35 2192.05h22.85v22.85h-22.85zM442.2 2192.05h22.85v22.85h-22.85zM465.05 2192.05h22.85v22.85h-22.85zM487.9 2192.05h22.85v22.85h-22.85zM510.75 2192.05h22.85v22.85h-22.85zM533.6 2192.05h22.85v22.85h-22.85zM556.45 2192.05h22.85v22.85h-22.85zM305.1 2214.9h22.85v22.85h-22.85zM327.95 2214.9h22.85v22.85h-22.85zM350.8 2214.9h22.85v22.85h-22.85zM373.65 2214.9h22.85v22.85h-22.85zM396.5 2214.9h22.85v22.85h-22.85zM419.35 2214.9h22.85v22.85h-22.85zM442.2 2214.9h22.85v22.85h-22.85zM465.05 2214.9h22.85v22.85h-22.85zM487.9 2214.9h22.85v22.85h-22.85zM510.75 2214.9h22.85v22.85h-22.85zM533.6 2214.9h22.85v22.85h-22.85zM556.45 2214.9h22.85v22.85h-22.85zM327.95 2237.75h22.85v22.85h-22.85zM350.8 2237.75h22.85v22.85h-22.85zM373.65 2237.75h22.85v22.85h-22.85zM396.5 2237.75h22.85v22.85h-22.85zM419.35 2237.75h22.85v22.85h-22.85zM442.2 2237.75h22.85v22.85h-22.85zM465.05 2237.75h22.85v22.85h-22.85zM487.9 2237.75h22.85v22.85h-22.85zM510.75 2237.75h22.85v22.85h-22.85zM533.6 2237.75h22.85v22.85h-22.85zM556.45 2237.75h22.85v22.85h-22.85zM350.8 2260.6h22.85v22.85h-22.85zM373.65 2260.6h22.85v22.85h-22.85zM396.5 2260.6h22.85v22.85h-22.85zM419.35 2260.6h22.85v22.85h-22.85zM442.2 2260.6h22.85v22.85h-22.85zM465.05 2260.6h22.85v22.85h-22.85zM487.9 2260.6h22.85v22.85h-22.85zM510.75 2260.6h22.85v22.85h-22.85zM533.6 2260.6h22.85v22.85h-22.85zM556.45 2260.6h22.85v22.85h-22.85zM373.65 2283.45h22.85v22.85h-22.85zM396.5 2283.45h22.85v22.85h-22.85zM419.35 2283.45h22.85v22.85h-22.85zM442.2 2283.45h22.85v22.85h-22.85zM465.05 2283.45h22.85v22.85h-22.85zM487.9 2283.45h22.85v22.85h-22.85zM510.75 2283.45h22.85v22.85h-22.85zM533.6 2283.45h22.85v22.85h-22.85zM556.45 2283.45h22.85v22.85h-22.85zM396.5 2306.3h22.85v22.85h-22.85zM419.35 2306.3h22.85v22.85h-22.85zM442.2 2306.3h22.85v22.85h-22.85zM465.05 2306.3h22.85v22.85h-22.85zM487.9 2306.3h22.85v22.85h-22.85zM510.75 2306.3h22.85v22.85h-22.85zM533.6 2306.3h22.85v22.85h-22.85zM556.45 2306.3h22.85v22.85h-22.85zM419.35 2329.15h22.85v22.85h-22.85zM442.2 2329.15h22.85v22.85h-22.85zM465.05 2329.15h22.85v22.85h-22.85zM487.9 2329.15h22.85v22.85h-22.85zM510.75 2329.15h22.85v22.85h-22.85zM533.6 2329.15h22.85v22.85h-22.85zM556.45 2329.15h22.85v22.85h-22.85zM442.2 2352h22.85v22.85h-22.85zM465.05 2352h22.85v22.85h-22.85zM487.9 2352h22.85v22.85h-22.85zM510.75 2352h22.85v22.85h-22.85zM533.6 2352h22.85v22.85h-22.85zM556.45 2352h22.85v22.85h-22.85zM465.05 2374.85h22.85v22.85h-22.85zM487.9 2374.85h22.85v22.85h-22.85zM510.75 2374.85h22.85v22.85h-22.85zM533.6 2374.85h22.85v22.85h-22.85zM556.45 2374.85h22.85v22.85h-22.85zM487.9 2397.7h22.85v22.85h-22.85zM510.75 2397.7h22.85v22.85h-22.85zM533.6 2397.7h22.85v22.85h-22.85zM556.45 2397.7h22.85v22.85h-22.85zM510.75 2420.55h22.85v22.85h-22.85zM533.6 2420.55h22.85v22.85h-22.85zM556.45 2420.55h22.85v22.85h-22.85zM533.6 2443.4h22.85v22.85h-22.85zM556.45 2443.4h22.85v22.85h-22.85zM556.45 2466.25h22.85v22.85h-22.85z" fill="none" stroke="#c8c8c8" stroke-width="0.9"/><circle cx="133.72" cy="2043.52" r="10.4" fill="rgb(255,0,0)"/><circle cx="156.57" cy="2043.52" r="6.9" fill="rgb(255,143,143)"/><circle cx="179.43" cy="2043.52" r="7.92" fill="rgb(107,107,255)"/><circle cx="202.28" cy="2043.52" r="8.45" fill="rgb(87,87,255)"/><circle cx="225.12" cy="2043.52" r="7.05" fill="rgb(255,138,138)"/><circle cx="247.98" cy="2043.52" r="7.05" fill="rgb(138,138,255)"/><circle cx="270.82" cy="2043.52" r="6.74" fill="rgb(148,148,255)"/><circle cx="293.68" cy="2043.52" r="3.89" fill="rgb(255,219,219)"/><circle cx="316.53" cy="2043.52" r="6.41" fill="rgb(255,158,158)"/><circle cx="339.38" cy="2043.52" r="6.41" fill="rgb(255,158,158)"/><circle cx="362.23" cy="2043.52" r="2.32" fill="rgb(255,242,242)"/><circle cx="385.08" cy="2043.52" r="1.47" fill="rgb(250,250,255)"/><circle cx="476.48" cy="2043.52" r="4.16" fill="rgb(214,214,255)"/><circle cx="499.33" cy="2043.52" r="2.75" fill="rgb(237,237,255)"/><circle cx="545.02" cy="2043.52" r="2.75" fill="rgb(237,237,255)"/><circle cx="567.88" cy="2043.52" r="1.47" fill="rgb(255,250,250)"/><circle cx="156.57" cy="2066.38" r="10.4" fill="rgb(255,0,0)"/><circle cx="179.43" cy="2066.38" r="6.58" fill="rgb(153,153,255)"/><circle cx="202.28" cy="2066.38" r="7.35" fill="rgb(128,128,255)"/><circle cx="225.12" cy="2066.38" r="4.88" fill="rgb(255,199,199)"/><circle cx="247.98" cy="2066.38" r="5.69" fill="rgb(178,178,255)"/><circle cx="270.82" cy="2066.38" r="2.55" fill="rgb(255,240,240)"/><circle cx="293.68" cy="2066.38" r="6.9" fill="rgb(255,143,143)"/><circle cx="316.53" cy="2066.38" r="5.69" fill="rgb(255,178,178)"/><circle cx="339.38" cy="2066.38" r="5.3" fill="rgb(255,189,189)"/><circle cx="430.78" cy="2066.38" r="3.12" fill="rgb(232,232,255)"/><circle cx="453.63" cy="2066.38" r="1.8" fill="rgb(255,247,247)"/><circle cx="476.48" cy="2066.38" r="3.12" fill="rgb(232,232,255)"/><circle cx="499.33" cy="2066.38" r="3.29" fill="rgb(230,230,255)"/><circle cx="545.02" cy="2066.38" r="3.6" fill="rgb(224,224,255)"/><circle cx="179.43" cy="2089.22" r="10.4" fill="rgb(255,0,0)"/><circle cx="202.28" cy="2089.22" r="6.24" fill="rgb(255,163,163)"/><circle cx="225.12" cy="2089.22" r="7.35" fill="rgb(128,128,255)"/><circle cx="247.98" cy="2089.22" r="8.94" fill="rgb(255,66,66)"/><circle cx="270.82" cy="2089.22" r="8.25" fill="rgb(255,94,94)"/><circle cx="293.68" cy="2089.22" r="8.45" fill="rgb(87,87,255)"/><circle cx="316.53" cy="2089.22" r="9.64" fill="rgb(36,36,255)"/><circle cx="339.38" cy="2089.22" r="9.12" fill="rgb(59,59,255)"/><circle cx="407.93" cy="2089.22" r="5.3" fill="rgb(255,189,189)"/><circle cx="430.78" cy="2089.22" r="3.6" fill="rgb(255,224,224)"/><circle cx="453.63" cy="2089.22" r="2.94" fill="rgb(235,235,255)"/><circle cx="476.48" cy="2089.22" r="6.06" fill="rgb(255,168,168)"/><circle cx="499.33" cy="2089.22" r="3.29" fill="rgb(255,230,230)"/><circle cx="545.02" cy="2089.22" r="3.29" fill="rgb(255,230,230)"/><circle cx="567.88" cy="2089.22" r="1.8" fill="rgb(255,247,247)"/><circle cx="202.28" cy="2112.07" r="10.4" fill="rgb(255,0,0)"/><circle cx="225.12" cy="2112.07" r="3.45" fill="rgb(227,227,255)"/><circle cx="247.98" cy="2112.07" r="4.99" fill="rgb(255,196,196)"/><circle cx="293.68" cy="2112.07" r="4.99" fill="rgb(196,196,255)"/><circle cx="316.53" cy="2112.07" r="3.45" fill="rgb(227,227,255)"/><circle cx="339.38" cy="2112.07" r="4.88" fill="rgb(199,199,255)"/><circle cx="362.23" cy="2112.07" r="1.47" fill="rgb(250,250,255)"/><circle cx="385.08" cy="2112.07" r="3.75" fill="rgb(255,222,222)"/><circle cx="407.93" cy="2112.07" r="4.29" fill="rgb(212,212,255)"/><circle cx="453.63" cy="2112.07" r="1.8" fill="rgb(255,247,247)"/><circle cx="476.48" cy="2112.07" r="1.47" fill="rgb(255,250,250)"/><circle cx="499.33" cy="2112.07" r="2.94" fill="rgb(255,235,235)"/><circle cx="522.17" cy="2112.07" r="3.12" fill="rgb(255,232,232)"/><circle cx="545.02" cy="2112.07" r="2.94" fill="rgb(255,235,235)"/><circle cx="567.88" cy="2112.07" r="1.47" fill="rgb(250,250,255)"/><circle cx="225.12" cy="2134.92" r="10.4" fill="rgb(255,0,0)"/><circle cx="247.98" cy="2134.92" r="7.2" fill="rgb(133,133,255)"/><circle cx="270.82" cy="2134.92" r="6.9" fill="rgb(143,143,255)"/><circle cx="293.68" cy="2134.92" r="3.12" fill="rgb(255,232,232)"/><circle cx="316.53" cy="2134.92" r="7.78" fill="rgb(255,112,112)"/><circle cx="339.38" cy="2134.92" r="6.58" fill="rgb(255,153,153)"/><circle cx="362.23" cy="2134.92" r="1.8" fill="rgb(255,247,247)"/><circle cx="453.63" cy="2134.92" r="3.12" fill="rgb(255,232,232)"/><circle cx="476.48" cy="2134.92" r="2.55" fill="rgb(240,240,255)"/><circle cx="522.17" cy="2134.92" r="1.8" fill="rgb(255,247,247)"/><circle cx="567.88" cy="2134.92" r="1.47" fill="rgb(250,250,255)"/><circle cx="247.98" cy="2157.78" r="10.4" fill="rgb(255,0,0)"/><circle cx="270.82" cy="2157.78" r="8.25" fill="rgb(255,94,94)"/><circle cx="293.68" cy="2157.78" r="7.78" fill="rgb(112,112,255)"/><circle cx="316.53" cy="2157.78" r="9.3" fill="rgb(51,51,255)"/><circle cx="339.38" cy="2157.78" r="8.94" fill="rgb(66,66,255)"/><circle cx="362.23" cy="2157.78" r="2.94" fill="rgb(255,235,235)"/><circle cx="385.08" cy="2157.78" r="1.47" fill="rgb(250,250,255)"/><circle cx="407.93" cy="2157.78" r="6.24" fill="rgb(255,163,163)"/><circle cx="430.78" cy="2157.78" r="2.55" fill="rgb(255,240,240)"/><circle cx="453.63" cy="2157.78" r="5.69" fill="rgb(178,178,255)"/><circle cx="476.48" cy="2157.78" r="4.16" fill="rgb(255,214,214)"/><circle cx="522.17" cy="2157.78" r="1.47" fill="rgb(250,250,255)"/><circle cx="567.88" cy="2157.78" r="3.12" fill="rgb(255,232,232)"/><circle cx="270.82" cy="2180.62" r="10.4" fill="rgb(255,0,0)"/><circle cx="293.68" cy="2180.62" r="5.69" fill="rgb(178,178,255)"/><circle cx="316.53" cy="2180.62" r="7.92" fill="rgb(107,107,255)"/><circle cx="339.38" cy="2180.62" r="8.64" fill="rgb(79,79,255)"/><circle cx="362.23" cy="2180.62" r="2.75" fill="rgb(255,237,237)"/><circle cx="385.08" cy="2180.62" r="2.75" fill="rgb(237,237,255)"/><circle cx="407.93" cy="2180.62" r="6.06" fill="rgb(255,168,168)"/><circle cx="430.78" cy="2180.62" r="1.47" fill="rgb(255,250,250)"/><circle cx="453.63" cy="2180.62" r="3.75" fill="rgb(222,222,255)"/><circle cx="476.48" cy="2180.62" r="5.5" fill="rgb(255,184,184)"/><circle cx="522.17" cy="2180.62" r="1.47" fill="rgb(250,250,255)"/><circle cx="567.88" cy="2180.62" r="2.32" fill="rgb(255,242,242)"/><circle cx="293.68" cy="2203.47" r="10.4" fill="rgb(255,0,0)"/><circle cx="316.53" cy="2203.47" r="9.47" fill="rgb(255,43,43)"/><circle cx="339.38" cy="2203.47" r="7.92" fill="rgb(255,107,107)"/><circle cx="362.23" cy="2203.47" r="3.75" fill="rgb(222,222,255)"/><circle cx="385.08" cy="2203.47" r="2.32" fill="rgb(255,242,242)"/><circle cx="407.93" cy="2203.47" r="5.88" fill="rgb(173,173,255)"/><circle cx="430.78" cy="2203.47" r="3.89" fill="rgb(219,219,255)"/><circle cx="453.63" cy="2203.47" r="4.16" fill="rgb(255,214,214)"/><circle cx="476.48" cy="2203.47" r="5.69" fill="rgb(178,178,255)"/><circle cx="499.33" cy="2203.47" r="1.47" fill="rgb(250,250,255)"/><circle cx="522.17" cy="2203.47" r="3.29" fill="rgb(255,230,230)"/><circle cx="545.02" cy="2203.47" r="1.47" fill="rgb(250,250,255)"/><circle cx="567.88" cy="2203.47" r="3.12" fill="rgb(232,232,255)"/><circle cx="316.53" cy="2226.32" r="10.4" fill="rgb(255,0,0)"/><circle cx="339.38" cy="2226.32" r="9.64" fill="rgb(255,36,36)"/><circle cx="362.23" cy="2226.32" r="3.29" fill="rgb(230,230,255)"/><circle cx="385.08" cy="2226.32" r="1.47" fill="rgb(255,250,250)"/><circle cx="407.93" cy="2226.32" r="6.06" fill="rgb(168,168,255)"/><circle cx="430.78" cy="2226.32" r="4.03" fill="rgb(217,217,255)"/><circle cx="453.63" cy="2226.32" r="4.29" fill="rgb(255,212,212)"/><circle cx="476.48" cy="2226.32" r="6.06" fill="rgb(168,168,255)"/><circle cx="522.17" cy="2226.32" r="1.04" fill="rgb(255,252,252)"/><circle cx="545.02" cy="2226.32" r="1.04" fill="rgb(252,252,255)"/><circle cx="567.88" cy="2226.32" r="3.12" fill="rgb(232,232,255)"/><circle cx="339.38" cy="2249.17" r="10.4" fill="rgb(255,0,0)"/><circle cx="362.23" cy="2249.17" r="3.29" fill="rgb(230,230,255)"/><circle cx="407.93" cy="2249.17" r="6.06" fill="rgb(168,168,255)"/><circle cx="430.78" cy="2249.17" r="3.45" fill="rgb(227,227,255)"/><circle cx="453.63" cy="2249.17" r="1.47" fill="rgb(255,250,250)"/><circle cx="476.48" cy="2249.17" r="6.06" fill="rgb(168,168,255)"/><circle cx="499.33" cy="2249.17" r="1.47" fill="rgb(250,250,255)"/><circle cx="545.02" cy="2249.17" r="1.47" fill="rgb(250,250,255)"/><circle cx="567.88" cy="2249.17" r="1.47" fill="rgb(250,250,255)"/><circle cx="362.23" cy="2272.03" r="10.4" fill="rgb(255,0,0)"/><circle cx="385.08" cy="2272.03" r="3.75" fill="rgb(255,222,222)"/><circle cx="407.93" cy="2272.03" r="7.57" fill="rgb(255,120,120)"/><circle cx="430.78" cy="2272.03" r="7.92" fill="rgb(255,107,107)"/><circle cx="453.63" cy="2272.03" r="6.24" fill="rgb(163,163,255)"/><circle cx="476.48" cy="2272.03" r="1.47" fill="rgb(255,250,250)"/><circle cx="499.33" cy="2272.03" r="6.74" fill="rgb(255,148,148)"/><circle cx="522.17" cy="2272.03" r="1.47" fill="rgb(255,250,250)"/><circle cx="545.02" cy="2272.03" r="6.9" fill="rgb(255,143,143)"/><circle cx="567.88" cy="2272.03" r="8.25" fill="rgb(255,94,94)"/><circle cx="385.08" cy="2294.88" r="10.4" fill="rgb(255,0,0)"/><circle cx="407.93" cy="2294.88" r="5.5" fill="rgb(184,184,255)"/><circle cx="430.78" cy="2294.88" r="4.03" fill="rgb(217,217,255)"/><circle cx="453.63" cy="2294.88" r="4.16" fill="rgb(255,214,214)"/><circle cx="476.48" cy="2294.88" r="2.32" fill="rgb(242,242,255)"/><circle cx="499.33" cy="2294.88" r="1.47" fill="rgb(255,250,250)"/><circle cx="522.17" cy="2294.88" r="7.92" fill="rgb(255,107,107)"/><circle cx="545.02" cy="2294.88" r="1.04" fill="rgb(255,252,252)"/><circle cx="567.88" cy="2294.88" r="4.88" fill="rgb(199,199,255)"/><circle cx="407.93" cy="2317.72" r="10.4" fill="rgb(255,0,0)"/><circle cx="430.78" cy="2317.72" r="7.92" fill="rgb(255,107,107)"/><circle cx="453.63" cy="2317.72" r="8.05" fill="rgb(102,102,255)"/><circle cx="476.48" cy="2317.72" r="2.32" fill="rgb(255,242,242)"/><circle cx="499.33" cy="2317.72" r="4.65" fill="rgb(255,204,204)"/><circle cx="522.17" cy="2317.72" r="2.94" fill="rgb(235,235,255)"/><circle cx="545.02" cy="2317.72" r="4.65" fill="rgb(255,204,204)"/><circle cx="567.88" cy="2317.72" r="7.78" fill="rgb(255,112,112)"/><circle cx="430.78" cy="2340.57" r="10.4" fill="rgb(255,0,0)"/><circle cx="453.63" cy="2340.57" r="7.57" fill="rgb(120,120,255)"/><circle cx="476.48" cy="2340.57" r="2.94" fill="rgb(255,235,235)"/><circle cx="499.33" cy="2340.57" r="9.64" fill="rgb(255,36,36)"/><circle cx="522.17" cy="2340.57" r="2.32" fill="rgb(242,242,255)"/><circle cx="545.02" cy="2340.57" r="9.81" fill="rgb(255,28,28)"/><circle cx="567.88" cy="2340.57" r="6.9" fill="rgb(255,143,143)"/><circle cx="453.63" cy="2363.43" r="10.4" fill="rgb(255,0,0)"/><circle cx="499.33" cy="2363.43" r="4.29" fill="rgb(212,212,255)"/><circle cx="522.17" cy="2363.43" r="3.12" fill="rgb(255,232,232)"/><circle cx="545.02" cy="2363.43" r="4.29" fill="rgb(212,212,255)"/><circle cx="567.88" cy="2363.43" r="6.58" fill="rgb(153,153,255)"/><circle cx="476.48" cy="2386.28" r="10.4" fill="rgb(255,0,0)"/><circle cx="499.33" cy="2386.28" r="4.16" fill="rgb(255,214,214)"/><circle cx="522.17" cy="2386.28" r="1.47" fill="rgb(250,250,255)"/><circle cx="545.02" cy="2386.28" r="4.29" fill="rgb(255,212,212)"/><circle cx="567.88" cy="2386.28" r="2.55" fill="rgb(255,240,240)"/><circle cx="499.33" cy="2409.12" r="10.4" fill="rgb(255,0,0)"/><circle cx="545.02" cy="2409.12" r="10.29" fill="rgb(255,5,5)"/><circle cx="567.88" cy="2409.12" r="4.29" fill="rgb(255,212,212)"/><circle cx="522.17" cy="2431.97" r="10.4" fill="rgb(255,0,0)"/><circle cx="567.88" cy="2431.97" r="1.04" fill="rgb(255,252,252)"/><circle cx="545.02" cy="2454.82" r="10.4" fill="rgb(255,0,0)"/><circle cx="567.88" cy="2454.82" r="4.29" fill="rgb(255,212,212)"/><circle cx="567.88" cy="2477.68" r="10.4" fill="rgb(255,0,0)"/><text x="133.72" y="2052.61" text-anchor="middle" font-size="17.7" stroke="#000" stroke-width="0.25" font-family='"Liberation Sans", sans-serif'>*</text><text x="156.57" y="2052.61" text-anchor="middle" font-size="17.7" stroke="#000" stroke-width="0.25" font-family='"Liberation Sans", sans-serif'>*</text><text x="179.43" y="2052.61" text-anchor="middle" font-size="17.7" stroke="#000" stroke-width="0.25" font-family='"Liberation Sans", sans-serif'>*</text><text x="202.28" y="2052.61" text-anchor="middle" font-size="17.7" stroke="#000" stroke-width="0.25" font-family='"Liberation Sans", sans-serif'>*</text><text x="225.12" y="2052.61" text-anchor="middle" font-size="17.7" stroke="#000" stroke-width="0.25" font-family='"Liberation Sans", sans-serif'>*</text><text x="247.98" y="2052.61" text-anchor="middle" font-size="17.7" stroke="#000" stroke-width="0.25" font-family='"Liberation Sans", sans-serif'>*</text><text x="270.82" y="2052.61" text-anchor="middle" font-size="17.7" stroke="#000" stroke-width="0.25" font-family='"Liberation Sans", sans-serif'>*</text><text x="293.68" y="2052.61" text-anchor="middle" font-size="17.7" stroke="#000" stroke-width="0.25" font-family='"Liberation Sans", sans-serif'>*</text><text x="316.53" y="2052.61" text-anchor="middle" font-size="17.7" stroke="#000" stroke-width="0.25" font-family='"Liberation Sans", sans-serif'>*</text><text x="339.38" y="2052.61" text-anchor="middle" font-size="17.7" stroke="#000" stroke-width="0.25" font-family='"Liberation Sans", sans-serif'>*</text><text x="476.48" y="2052.61" text-anchor="middle" font-size="17.7" stroke="#000" stroke-width="0.25" font-family='"Liberation Sans", sans-serif'>*</text><text x="156.57" y="2075.46" text-anchor="middle" font-size="17.7" stroke="#000" stroke-width="0.25" font-family='"Liberation Sans", sans-serif'>*</text><text x="179.43" y="2075.46" text-anchor="middle" font-size="17.7" stroke="#000" stroke-width="0.25" font-family='"Liberation Sans", sans-serif'>*</text><text x="202.28" y="2075.46" text-anchor="middle" font-size="17.7" stroke="#000" stroke-width="0.25" font-family='"Liberation Sans", sans-serif'>*</text><text x="225.12" y="2075.46" text-anchor="middle" font-size="17.7" stroke="#000" stroke-width="0.25" font-family='"Liberation Sans", sans-serif'>*</text><text x="247.98" y="2075.46" text-anchor="middle" font-size="17.7" stroke="#000" stroke-width="0.25" font-family='"Liberation Sans", sans-serif'>*</text><text x="293.68" y="2075.46" text-anchor="middle" font-size="17.7" stroke="#000" stroke-width="0.25" font-family='"Liberation Sans", sans-serif'>*</text><text x="316.53" y="2075.46" text-anchor="middle" font-size="17.7" stroke="#000" stroke-width="0.25" font-family='"Liberation Sans", sans-serif'>*</text><text x="339.38" y="2075.46" text-anchor="middle" font-size="17.7" stroke="#000" stroke-width="0.25" font-family='"Liberation Sans", sans-serif'>*</text><text x="179.43" y="2098.31" text-anchor="middle" font-size="17.7" stroke="#000" stroke-width="0.25" font-family='"Liberation Sans", sans-serif'>*</text><text x="202.28" y="2098.31" text-anchor="middle" font-size="17.7" stroke="#000" stroke-width="0.25" font-family='"Liberation Sans", sans-serif'>*</text><text x="225.12" y="2098.31" text-anchor="middle" font-size="17.7" stroke="#000" stroke-width="0.25" font-family='"Liberation Sans", sans-serif'>*</text><text x="247.98" y="2098.31" text-anchor="middle" font-size="17.7" stroke="#000" stroke-width="0.25" font-family='"Liberation Sans", sans-serif'>*</text><text x="270.82" y="2098.31" text-anchor="middle" font-size="17.7" stroke="#000" stroke-width="0.25" font-family='"Liberation Sans", sans-serif'>*</text><text x="293.68" y="2098.31" text-anchor="middle" font-size="17.7" stroke="#000" stroke-width="0.25" font-family='"Liberation Sans", sans-serif'>*</text><text x="316.53" y="2098.31" text-anchor="middle" font-size="17.7" stroke="#000" stroke-width="0.25" font-family='"Liberation Sans", sans-serif'>*</text><text x="339.38" y="2098.31" text-anchor="middle" font-size="17.7" stroke="#000" stroke-width="0.25" font-family='"Liberation Sans", sans-serif'>*</text><text x="407.93" y="2098.31" text-anchor="middle" font-size="17.7" stroke="#000" stroke-width="0.25" font-family='"Liberation Sans", sans-serif'>*</text><text x="476.48" y="2098.31" text-anchor="middle" font-size="17.7" stroke="#000" stroke-width="0.25" font-family='"Liberation Sans", sans-serif'>*</text><text x="202.28" y="2121.16" text-anchor="middle" font-size="17.7" stroke="#000" stroke-width="0.25" font-family='"Liberation Sans", sans-serif'>*</text><text x="247.98" y="2121.16" text-anchor="middle" font-size="17.7" stroke="#000" stroke-width="0.25" font-family='"Liberation Sans", sans-serif'>*</text><text x="293.68" y="2121.16" text-anchor="middle" font-size="17.7" stroke="#000" stroke-width="0.25" font-family='"Liberation Sans", sans-serif'>*</text><text x="339.38" y="2121.16" text-anchor="middle" font-size="17.7" stroke="#000" stroke-width="0.25" font-family='"Liberation Sans", sans-serif'>*</text><text x="407.93" y="2121.16" text-anchor="middle" font-size="17.7" stroke="#000" stroke-width="0.25" font-family='"Liberation Sans", sans-serif'>*</text><text x="225.12" y="2144.01" text-anchor="middle" font-size="17.7" stroke="#000" stroke-width="0.25" font-family='"Liberation Sans", sans-serif'>*</text><text x="247.98" y="2144.01" text-anchor="middle" font-size="17.7" stroke="#000" stroke-width="0.25" font-family='"Liberation Sans", sans-serif'>*</text><text x="270.82" y="2144.01" text-anchor="middle" font-size="17.7" stroke="#000" stroke-width="0.25" font-family='"Liberation Sans", sans-serif'>*</text><text x="316.53" y="2144.01" text-anchor="middle" font-size="17.7" stroke="#000" stroke-width="0.25" font-family='"Liberation Sans", sans-serif'>*</text><text x="339.38" y="2144.01" text-anchor="middle" font-size="17.7" stroke="#000" stroke-width="0.25" font-family='"Liberation Sans", sans-serif'>*</text><text x="247.98" y="2166.86" text-anchor="middle" font-size="17.7" stroke="#000" stroke-width="0.25" font-family='"Liberation Sans", sans-serif'>*</text><text x="270.82" y="2166.86" text-anchor="middle" font-size="17.7" stroke="#000" stroke-width="0.25" font-family='"Liberation Sans", sans-serif'>*</text><text x="293.68" y="2166.86" text-anchor="middle" font-size="17.7" stroke="#000" stroke-width="0.25" font-family='"Liberation Sans", sans-serif'>*</text><text x="316.53" y="2166.86" text-anchor="middle" font-size="17.7" stroke="#000" stroke-width="0.25" font-family='"Liberation Sans", sans-serif'>*</text><text x="339.38" y="2166.86" text-anchor="middle" font-size="17.7" stroke="#000" stroke-width="0.25" font-family='"Liberation Sans", sans-serif'>*</text><text x="407.93" y="2166.86" text-anchor="middle" font-size="17.7" stroke="#000" stroke-width="0.25" font-family='"Liberation Sans", sans-serif'>*</text><text x="430.78" y="2166.86" text-anchor="middle" font-size="17.7" stroke="#000" stroke-width="0.25" font-family='"Liberation Sans", sans-serif'>*</text><text x="453.63" y="2166.86" text-anchor="middle" font-size="17.7" stroke="#000" stroke-width="0.25" font-family='"Liberation Sans", sans-serif'>*</text><text x="476.48" y="2166.86" text-anchor="middle" font-size="17.7" stroke="#000" stroke-width="0.25" font-family='"Liberation Sans", sans-serif'>*</text><text x="270.82" y="2189.71" text-anchor="middle" font-size="17.7" stroke="#000" stroke-width="0.25" font-family='"Liberation Sans", sans-serif'>*</text><text x="293.68" y="2189.71" text-anchor="middle" font-size="17.7" stroke="#000" stroke-width="0.25" font-family='"Liberation Sans", sans-serif'>*</text><text x="316.53" y="2189.71" text-anchor="middle" font-size="17.7" stroke="#000" stroke-width="0.25" font-family='"Liberation Sans", sans-serif'>*</text><text x="339.38" y="2189.71" text-anchor="middle" font-size="17.7" stroke="#000" stroke-width="0.25" font-family='"Liberation Sans", sans-serif'>*</text><text x="407.93" y="2189.71" text-anchor="middle" font-size="17.7" stroke="#000" stroke-width="0.25" font-family='"Liberation Sans", sans-serif'>*</text><text x="476.48" y="2189.71" text-anchor="middle" font-size="17.7" stroke="#000" stroke-width="0.25" font-family='"Liberation Sans", sans-serif'>*</text><text x="567.88" y="2189.71" text-anchor="middle" font-size="17.7" stroke="#000" stroke-width="0.25" font-family='"Liberation Sans", sans-serif'>*</text><text x="293.68" y="2212.56" text-anchor="middle" font-size="17.7" stroke="#000" stroke-width="0.25" font-family='"Liberation Sans", sans-serif'>*</text><text x="316.53" y="2212.56" text-anchor="middle" font-size="17.7" stroke="#000" stroke-width="0.25" font-family='"Liberation Sans", sans-serif'>*</text><text x="339.38" y="2212.56" text-anchor="middle" font-size="17.7" stroke="#000" stroke-width="0.25" font-family='"Liberation Sans", sans-serif'>*</text><text x="385.08" y="2212.56" text-anchor="middle" font-size="17.7" stroke="#000" stroke-width="0.25" font-family='"Liberation Sans", sans-serif'>*</text><text x="407.93" y="2212.56" text-anchor="middle" font-size="17.7" stroke="#000" stroke-width="0.25" font-family='"Liberation Sans", sans-serif'>*</text><text x="430.78" y="2212.56" text-anchor="middle" font-size="17.7" stroke="#000" stroke-width="0.25" font-family='"Liberation Sans", sans-serif'>*</text><text x="453.63" y="2212.56" text-anchor="middle" font-size="17.7" stroke="#000" stroke-width="0.25" font-family='"Liberation Sans", sans-serif'>*</text><text x="476.48" y="2212.56" text-anchor="middle" font-size="17.7" stroke="#000" stroke-width="0.25" font-family='"Liberation Sans", sans-serif'>*</text><text x="316.53" y="2235.41" text-anchor="middle" font-size="17.7" stroke="#000" stroke-width="0.25" font-family='"Liberation Sans", sans-serif'>*</text><text x="339.38" y="2235.41" text-anchor="middle" font-size="17.7" stroke="#000" stroke-width="0.25" font-family='"Liberation Sans", sans-serif'>*</text><text x="407.93" y="2235.41" text-anchor="middle" font-size="17.7" stroke="#000" stroke-width="0.25" font-family='"Liberation Sans", sans-serif'>*</text><text x="453.63" y="2235.41" text-anchor="middle" font-size="17.7" stroke="#000" stroke-width="0.25" font-family='"Liberation Sans", sans-serif'>*</text><text x="476.48" y="2235.41" text-anchor="middle" font-size="17.7" stroke="#000" stroke-width="0.25" font-family='"Liberation Sans", sans-serif'>*</text><text x="339.38" y="2258.26" text-anchor="middle" font-size="17.7" stroke="#000" stroke-width="0.25" font-family='"Liberation Sans", sans-serif'>*</text><text x="407.93" y="2258.26" text-anchor="middle" font-size="17.7" stroke="#000" stroke-width="0.25" font-family='"Liberation Sans", sans-serif'>*</text><text x="476.48" y="2258.26" text-anchor="middle" font-size="17.7" stroke="#000" stroke-width="0.25" font-family='"Liberation Sans", sans-serif'>*</text><text x="362.23" y="2281.11" text-anchor="middle" font-size="17.7" stroke="#000" stroke-width="0.25" font-family='"Liberation Sans", sans-serif'>*</text><text x="407.93" y="2281.11" text-anchor="middle" font-size="17.7" stroke="#000" stroke-width="0.25" font-family='"Liberation Sans", sans-serif'>*</text><text x="430.78" y="2281.11" text-anchor="middle" font-size="17.7" stroke="#000" stroke-width="0.25" font-family='"Liberation Sans", sans-serif'>*</text><text x="453.63" y="2281.11" text-anchor="middle" font-size="17.7" stroke="#000" stroke-width="0.25" font-family='"Liberation Sans", sans-serif'>*</text><text x="499.33" y="2281.11" text-anchor="middle" font-size="17.7" stroke="#000" stroke-width="0.25" font-family='"Liberation Sans", sans-serif'>*</text><text x="545.02" y="2281.11" text-anchor="middle" font-size="17.7" stroke="#000" stroke-width="0.25" font-family='"Liberation Sans", sans-serif'>*</text><text x="567.88" y="2281.11" text-anchor="middle" font-size="17.7" stroke="#000" stroke-width="0.25" font-family='"Liberation Sans", sans-serif'>*</text><text x="385.08" y="2303.96" text-anchor="middle" font-size="17.7" stroke="#000" stroke-width="0.25" font-family='"Liberation Sans", sans-serif'>*</text><text x="407.93" y="2303.96" text-anchor="middle" font-size="17.7" stroke="#000" stroke-width="0.25" font-family='"Liberation Sans", sans-serif'>*</text><text x="453.63" y="2303.96" text-anchor="middle" font-size="17.7" stroke="#000" stroke-width="0.25" font-family='"Liberation Sans", sans-serif'>*</text><text x="476.48" y="2303.96" text-anchor="middle" font-size="17.7" stroke="#000" stroke-width="0.25" font-family='"Liberation Sans", sans-serif'>*</text><text x="522.17" y="2303.96" text-anchor="middle" font-size="17.7" stroke="#000" stroke-width="0.25" font-family='"Liberation Sans", sans-serif'>*</text><text x="567.88" y="2303.96" text-anchor="middle" font-size="17.7" stroke="#000" stroke-width="0.25" font-family='"Liberation Sans", sans-serif'>*</text><text x="407.93" y="2326.81" text-anchor="middle" font-size="17.7" stroke="#000" stroke-width="0.25" font-family='"Liberation Sans", sans-serif'>*</text><text x="430.78" y="2326.81" text-anchor="middle" font-size="17.7" stroke="#000" stroke-width="0.25" font-family='"Liberation Sans", sans-serif'>*</text><text x="453.63" y="2326.81" text-anchor="middle" font-size="17.7" stroke="#000" stroke-width="0.25" font-family='"Liberation Sans", sans-serif'>*</text><text x="476.48" y="2326.81" text-anchor="middle" font-size="17.7" stroke="#000" stroke-width="0.25" font-family='"Liberation Sans", sans-serif'>*</text><text x="499.33" y="2326.81" text-anchor="middle" font-size="17.7" stroke="#000" stroke-width="0.25" font-family='"Liberation Sans", sans-serif'>*</text><text x="545.02" y="2326.81" text-anchor="middle" font-size="17.7" stroke="#000" stroke-width="0.25" font-family='"Liberation Sans", sans-serif'>*</text><text x="567.88" y="2326.81" text-anchor="middle" font-size="17.7" stroke="#000" stroke-width="0.25" font-family='"Liberation Sans", sans-serif'>*</text><text x="430.78" y="2349.66" text-anchor="middle" font-size="17.7" stroke="#000" stroke-width="0.25" font-family='"Liberation Sans", sans-serif'>*</text><text x="453.63" y="2349.66" text-anchor="middle" font-size="17.7" stroke="#000" stroke-width="0.25" font-family='"Liberation Sans", sans-serif'>*</text><text x="499.33" y="2349.66" text-anchor="middle" font-size="17.7" stroke="#000" stroke-width="0.25" font-family='"Liberation Sans", sans-serif'>*</text><text x="522.17" y="2349.66" text-anchor="middle" font-size="17.7" stroke="#000" stroke-width="0.25" font-family='"Liberation Sans", sans-serif'>*</text><text x="545.02" y="2349.66" text-anchor="middle" font-size="17.7" stroke="#000" stroke-width="0.25" font-family='"Liberation Sans", sans-serif'>*</text><text x="567.88" y="2349.66" text-anchor="middle" font-size="17.7" stroke="#000" stroke-width="0.25" font-family='"Liberation Sans", sans-serif'>*</text><text x="453.63" y="2372.51" text-anchor="middle" font-size="17.7" stroke="#000" stroke-width="0.25" font-family='"Liberation Sans", sans-serif'>*</text><text x="499.33" y="2372.51" text-anchor="middle" font-size="17.7" stroke="#000" stroke-width="0.25" font-family='"Liberation Sans", sans-serif'>*</text><text x="545.02" y="2372.51" text-anchor="middle" font-size="17.7" stroke="#000" stroke-width="0.25" font-family='"Liberation Sans", sans-serif'>*</text><text x="567.88" y="2372.51" text-anchor="middle" font-size="17.7" stroke="#000" stroke-width="0.25" font-family='"Liberation Sans", sans-serif'>*</text><text x="476.48" y="2395.36" text-anchor="middle" font-size="17.7" stroke="#000" stroke-width="0.25" font-family='"Liberation Sans", sans-serif'>*</text><text x="499.33" y="2395.36" text-anchor="middle" font-size="17.7" stroke="#000" stroke-width="0.25" font-family='"Liberation Sans", sans-serif'>*</text><text x="545.02" y="2395.36" text-anchor="middle" font-size="17.7" stroke="#000" stroke-width="0.25" font-family='"Liberation Sans", sans-serif'>*</text><text x="567.88" y="2395.36" text-anchor="middle" font-size="17.7" stroke="#000" stroke-width="0.25" font-family='"Liberation Sans", sans-serif'>*</text><text x="499.33" y="2418.21" text-anchor="middle" font-size="17.7" stroke="#000" stroke-width="0.25" font-family='"Liberation Sans", sans-serif'>*</text><text x="545.02" y="2418.21" text-anchor="middle" font-size="17.7" stroke="#000" stroke-width="0.25" font-family='"Liberation Sans", sans-serif'>*</text><text x="567.88" y="2418.21" text-anchor="middle" font-size="17.7" stroke="#000" stroke-width="0.25" font-family='"Liberation Sans", sans-serif'>*</text><text x="522.17" y="2441.06" text-anchor="middle" font-size="17.7" stroke="#000" stroke-width="0.25" font-family='"Liberation Sans", sans-serif'>*</text><text x="545.02" y="2463.91" text-anchor="middle" font-size="17.7" stroke="#000" stroke-width="0.25" font-family='"Liberation Sans", sans-serif'>*</text><text x="567.88" y="2463.91" text-anchor="middle" font-size="17.7" stroke="#000" stroke-width="0.25" font-family='"Liberation Sans", sans-serif'>*</text><text x="567.88" y="2486.76" text-anchor="middle" font-size="17.7" stroke="#000" stroke-width="0.25" font-family='"Liberation Sans", sans-serif'>*</text><text x="116.8" y="2044.78" text-anchor="end" font-size="9.6" fill="#333" font-family='"Liberation Sans", sans-serif'>DL_702</text><text x="139.65" y="2067.63" text-anchor="end" font-size="9.6" fill="#333" font-family='"Liberation Sans", sans-serif'>DL_418</text><text x="162.5" y="2090.48" text-anchor="end" font-size="9.6" fill="#333" font-family='"Liberation Sans", sans-serif'>DL_527</text><text x="185.35" y="2113.33" text-anchor="end" font-size="9.6" fill="#333" font-family='"Liberation Sans", sans-serif'>DL_256</text><text x="208.2" y="2136.18" text-anchor="end" font-size="9.6" fill="#333" font-family='"Liberation Sans", sans-serif'>DL_6</text><text x="231.05" y="2159.03" text-anchor="end" font-size="9.6" fill="#333" font-family='"Liberation Sans", sans-serif'>DL_732</text><text x="253.9" y="2181.88" text-anchor="end" font-size="9.6" fill="#333" font-family='"Liberation Sans", sans-serif'>DL_472</text><text x="276.75" y="2204.73" text-anchor="end" font-size="9.6" fill="#333" font-family='"Liberation Sans", sans-serif'>DL_27</text><text x="299.6" y="2227.58" text-anchor="end" font-size="9.6" fill="#333" font-family='"Liberation Sans", sans-serif'>DL_96</text><text x="322.45" y="2250.43" text-anchor="end" font-size="9.6" fill="#333" font-family='"Liberation Sans", sans-serif'>DL_300</text><text x="345.3" y="2273.28" text-anchor="end" font-size="9.6" fill="#333" font-family='"Liberation Sans", sans-serif'>Rad_533</text><text x="368.15" y="2296.13" text-anchor="end" font-size="9.6" fill="#333" font-family='"Liberation Sans", sans-serif'>Rad_596</text><text x="391" y="2318.98" text-anchor="end" font-size="9.6" fill="#333" font-family='"Liberation Sans", sans-serif'>Rad_821</text><text x="413.85" y="2341.83" text-anchor="end" font-size="9.6" fill="#333" font-family='"Liberation Sans", sans-serif'>Rad_965</text><text x="436.7" y="2364.68" text-anchor="end" font-size="9.6" fill="#333" font-family='"Liberation Sans", sans-serif'>Rad_446</text><text x="459.55" y="2387.53" text-anchor="end" font-size="9.6" fill="#333" font-family='"Liberation Sans", sans-serif'>Rad_466</text><text x="482.4" y="2410.38" text-anchor="end" font-size="9.6" fill="#333" font-family='"Liberation Sans", sans-serif'>Rad_665</text><text x="505.25" y="2433.23" text-anchor="end" font-size="9.6" fill="#333" font-family='"Liberation Sans", sans-serif'>Rad_724</text><text x="528.1" y="2456.08" text-anchor="end" font-size="9.6" fill="#333" font-family='"Liberation Sans", sans-serif'>Rad_661</text><text x="550.95" y="2478.93" text-anchor="end" font-size="9.6" fill="#333" font-family='"Liberation Sans", sans-serif'>Rad_278</text><text transform="translate(135.88 2028.3) rotate(-90)" font-size="9.6" fill="#333" font-family='"Liberation Sans", sans-serif'>DL_702</text><text transform="translate(158.73 2028.3) rotate(-90)" font-size="9.6" fill="#333" font-family='"Liberation Sans", sans-serif'>DL_418</text><text transform="translate(181.58 2028.3) rotate(-90)" font-size="9.6" fill="#333" font-family='"Liberation Sans", sans-serif'>DL_527</text><text transform="translate(204.43 2028.3) rotate(-90)" font-size="9.6" fill="#333" font-family='"Liberation Sans", sans-serif'>DL_256</text><text transform="translate(227.28 2028.3) rotate(-90)" font-size="9.6" fill="#333" font-family='"Liberation Sans", sans-serif'>DL_6</text><text transform="translate(250.13 2028.3) rotate(-90)" font-size="9.6" fill="#333" font-family='"Liberation Sans", sans-serif'>DL_732</text><text transform="translate(272.98 2028.3) rotate(-90)" font-size="9.6" fill="#333" font-family='"Liberation Sans", sans-serif'>DL_472</text><text transform="translate(295.83 2028.3) rotate(-90)" font-size="9.6" fill="#333" font-family='"Liberation Sans", sans-serif'>DL_27</text><text transform="translate(318.68 2028.3) rotate(-90)" font-size="9.6" fill="#333" font-family='"Liberation Sans", sans-serif'>DL_96</text><text transform="translate(341.53 2028.3) rotate(-90)" font-size="9.6" fill="#333" font-family='"Liberation Sans", sans-serif'>DL_300</text><text transform="translate(364.38 2028.3) rotate(-90)" font-size="9.6" fill="#333" font-family='"Liberation Sans", sans-serif'>Rad_533</text><text transform="translate(387.23 2028.3) rotate(-90)" font-size="9.6" fill="#333" font-family='"Liberation Sans", sans-serif'>Rad_596</text><text transform="translate(410.08 2028.3) rotate(-90)" font-size="9.6" fill="#333" font-family='"Liberation Sans", sans-serif'>Rad_821</text><text transform="translate(432.93 2028.3) rotate(-90)" font-size="9.6" fill="#333" font-family='"Liberation Sans", sans-serif'>Rad_965</text><text transform="translate(455.78 2028.3) rotate(-90)" font-size="9.6" fill="#333" font-family='"Liberation Sans", sans-serif'>Rad_446</text><text transform="translate(478.63 2028.3) rotate(-90)" font-size="9.6" fill="#333" font-family='"Liberation Sans", sans-serif'>Rad_466</text><text transform="translate(501.48 2028.3) rotate(-90)" font-size="9.6" fill="#333" font-family='"Liberation Sans", sans-serif'>Rad_665</text><text transform="translate(524.33 2028.3) rotate(-90)" font-size="9.6" fill="#333" font-family='"Liberation Sans", sans-serif'>Rad_724</text><text transform="translate(547.18 2028.3) rotate(-90)" font-size="9.6" fill="#333" font-family='"Liberation Sans", sans-serif'>Rad_661</text><text transform="translate(570.03 2028.3) rotate(-90)" font-size="9.6" fill="#333" font-family='"Liberation Sans", sans-serif'>Rad_278</text><rect x="587.9" y="2031.9" width="17.2" height="9.46" fill="rgb(255,10,10)"/><rect x="587.9" y="2041.06" width="17.2" height="9.46" fill="rgb(255,20,20)"/><rect x="587.9" y="2050.22" width="17.2" height="9.46" fill="rgb(255,31,31)"/><rect x="587.9" y="2059.37" width="17.2" height="9.46" fill="rgb(255,41,41)"/><rect x="587.9" y="2068.53" width="17.2" height="9.46" fill="rgb(255,51,51)"/><rect x="587.9" y="2077.69" width="17.2" height="9.46" fill="rgb(255,61,61)"/><rect x="587.9" y="2086.85" width="17.2" height="9.46" fill="rgb(255,71,71)"/><rect x="587.9" y="2096.01" width="17.2" height="9.46" fill="rgb(255,82,82)"/><rect x="587.9" y="2105.16" width="17.2" height="9.46" fill="rgb(255,92,92)"/><rect x="587.9" y="2114.32" width="17.2" height="9.46" fill="rgb(255,102,102)"/><rect x="587.9" y="2123.48" width="17.2" height="9.46" fill="rgb(255,112,112)"/><rect x="587.9" y="2132.64" width="17.2" height="9.46" fill="rgb(255,122,122)"/><rect x="587.9" y="2141.8" width="17.2" height="9.46" fill="rgb(255,133,133)"/><rect x="587.9" y="2150.95" width="17.2" height="9.46" fill="rgb(255,143,143)"/><rect x="587.9" y="2160.11" width="17.2" height="9.46" fill="rgb(255,153,153)"/><rect x="587.9" y="2169.27" width="17.2" height="9.46" fill="rgb(255,163,163)"/><rect x="587.9" y="2178.43" width="17.2" height="9.46" fill="rgb(255,173,173)"/><rect x="587.9" y="2187.59" width="17.2" height="9.46" fill="rgb(255,184,184)"/><rect x="587.9" y="2196.74" width="17.2" height="9.46" fill="rgb(255,194,194)"/><rect x="587.9" y="2205.9" width="17.2" height="9.46" fill="rgb(255,204,204)"/><rect x="587.9" y="2215.06" width="17.2" height="9.46" fill="rgb(255,214,214)"/><rect x="587.9" y="2224.22" width="17.2" height="9.46" fill="rgb(255,224,224)"/><rect x="587.9" y="2233.38" width="17.2" height="9.46" fill="rgb(255,235,235)"/><rect x="587.9" y="2242.53" width="17.2" height="9.46" fill="rgb(255,245,245)"/><rect x="587.9" y="2251.69" width="17.2" height="9.46" fill="rgb(255,255,255)"/><rect x="587.9" y="2260.85" width="17.2" height="9.46" fill="rgb(255,255,255)"/><rect x="587.9" y="2270.01" width="17.2" height="9.46" fill="rgb(245,245,255)"/><rect x="587.9" y="2279.17" width="17.2" height="9.46" fill="rgb(235,235,255)"/><rect x="587.9" y="2288.32" width="17.2" height="9.46" fill="rgb(224,224,255)"/><rect x="587.9" y="2297.48" width="17.2" height="9.46" fill="rgb(214,214,255)"/><rect x="587.9" y="2306.64" width="17.2" height="9.46" fill="rgb(204,204,255)"/><rect x="587.9" y="2315.8" width="17.2" height="9.46" fill="rgb(194,194,255)"/><rect x="587.9" y="2324.96" width="17.2" height="9.46" fill="rgb(184,184,255)"/><rect x="587.9" y="2334.11" width="17.2" height="9.46" fill="rgb(173,173,255)"/><rect x="587.9" y="2343.27" width="17.2" height="9.46" fill="rgb(163,163,255)"/><rect x="587.9" y="2352.43" width="17.2" height="9.46" fill="rgb(153,153,255)"/><rect x="587.9" y="2361.59" width="17.2" height="9.46" fill="rgb(143,143,255)"/><rect x="587.9" y="2370.75" width="17.2" height="9.46" fill="rgb(133,133,255)"/><rect x="587.9" y="2379.9" width="17.2" height="9.46" fill="rgb(122,122,255)"/><rect x="587.9" y="2389.06" width="17.2" height="9.46" fill="rgb(112,112,255)"/><rect x="587.9" y="2398.22" width="17.2" height="9.46" fill="rgb(102,102,255)"/><rect x="587.9" y="2407.38" width="17.2" height="9.46" fill="rgb(92,92,255)"/><rect x="587.9" y="2416.54" width="17.2" height="9.46" fill="rgb(82,82,255)"/><rect x="587.9" y="2425.69" width="17.2" height="9.46" fill="rgb(71,71,255)"/><rect x="587.9" y="2434.85" width="17.2" height="9.46" fill="rgb(61,61,255)"/><rect x="587.9" y="2444.01" width="17.2" height="9.46" fill="rgb(51,51,255)"/><rect x="587.9" y="2453.17" width="17.2" height="9.46" fill="rgb(41,41,255)"/><rect x="587.9" y="2462.33" width="17.2" height="9.46" fill="rgb(31,31,255)"/><rect x="587.9" y="2471.48" width="17.2" height="9.46" fill="rgb(20,20,255)"/><rect x="587.9" y="2480.64" width="17.2" height="9.46" fill="rgb(10,10,255)"/><rect x="587.9" y="2031.9" width="17.2" height="457.9" fill="none" stroke="#555" stroke-width="0.8"/><path d="M605.1 2031.9h3.3" stroke="#444" stroke-width="0.8"/><text x="626.3" y="2035.3" text-anchor="middle" font-size="9.6" fill="#333" font-family='"Liberation Sans", sans-serif'>1</text><path d="M605.1 2077.69h3.3" stroke="#444" stroke-width="0.8"/><text x="626.3" y="2081.09" text-anchor="middle" font-size="9.6" fill="#333" font-family='"Liberation Sans", sans-serif'>0.8</text><path d="M605.1 2123.48h3.3" stroke="#444" stroke-width="0.8"/><text x="626.3" y="2126.88" text-anchor="middle" font-size="9.6" fill="#333" font-family='"Liberation Sans", sans-serif'>0.6</text><path d="M605.1 2169.27h3.3" stroke="#444" stroke-width="0.8"/><text x="626.3" y="2172.67" text-anchor="middle" font-size="9.6" fill="#333" font-family='"Liberation Sans", sans-serif'>0.4</text><path d="M605.1 2215.06h3.3" stroke="#444" stroke-width="0.8"/><text x="626.3" y="2218.46" text-anchor="middle" font-size="9.6" fill="#333" font-family='"Liberation Sans", sans-serif'>0.2</text><path d="M605.1 2260.85h3.3" stroke="#444" stroke-width="0.8"/><text x="626.3" y="2264.25" text-anchor="middle" font-size="9.6" fill="#333" font-family='"Liberation Sans", sans-serif'>0</text><path d="M605.1 2306.64h3.3" stroke="#444" stroke-width="0.8"/><text x="626.3" y="2310.04" text-anchor="middle" font-size="9.6" fill="#333" font-family='"Liberation Sans", sans-serif'>-0.2</text><path d="M605.1 2352.43h3.3" stroke="#444" stroke-width="0.8"/><text x="626.3" y="2355.83" text-anchor="middle" font-size="9.6" fill="#333" font-family='"Liberation Sans", sans-serif'>-0.4</text><path d="M605.1 2398.22h3.3" stroke="#444" stroke-width="0.8"/><text x="626.3" y="2401.62" text-anchor="middle" font-size="9.6" fill="#333" font-family='"Liberation Sans", sans-serif'>-0.6</text><path d="M605.1 2444.01h3.3" stroke="#444" stroke-width="0.8"/><text x="626.3" y="2447.41" text-anchor="middle" font-size="9.6" fill="#333" font-family='"Liberation Sans", sans-serif'>-0.8</text><path d="M605.1 2489.8h3.3" stroke="#444" stroke-width="0.8"/><text x="626.3" y="2493.2" text-anchor="middle" font-size="9.6" fill="#333" font-family='"Liberation Sans", sans-serif'>-1</text><text transform="translate(27.3 1955.1) scale(0.96 1)" font-size="35.3" font-weight="bold" font-family='"Liberation Sans", sans-serif'>D</text>
<path d="M795.2 2030.4h46v46h-46zM841.2 2030.4h46v46h-46zM887.2 2030.4h46v46h-46zM933.2 2030.4h46v46h-46zM979.2 2030.4h46v46h-46zM1025.2 2030.4h46v46h-46zM1071.2 2030.4h46v46h-46zM1117.2 2030.4h46v46h-46zM1163.2 2030.4h46v46h-46zM1209.2 2030.4h46v46h-46zM841.2 2076.4h46v46h-46zM887.2 2076.4h46v46h-46zM933.2 2076.4h46v46h-46zM979.2 2076.4h46v46h-46zM1025.2 2076.4h46v46h-46zM1071.2 2076.4h46v46h-46zM1117.2 2076.4h46v46h-46zM1163.2 2076.4h46v46h-46zM1209.2 2076.4h46v46h-46zM887.2 2122.4h46v46h-46zM933.2 2122.4h46v46h-46zM979.2 2122.4h46v46h-46zM1025.2 2122.4h46v46h-46zM1071.2 2122.4h46v46h-46zM1117.2 2122.4h46v46h-46zM1163.2 2122.4h46v46h-46zM1209.2 2122.4h46v46h-46zM933.2 2168.4h46v46h-46zM979.2 2168.4h46v46h-46zM1025.2 2168.4h46v46h-46zM1071.2 2168.4h46v46h-46zM1117.2 2168.4h46v46h-46zM1163.2 2168.4h46v46h-46zM1209.2 2168.4h46v46h-46zM979.2 2214.4h46v46h-46zM1025.2 2214.4h46v46h-46zM1071.2 2214.4h46v46h-46zM1117.2 2214.4h46v46h-46zM1163.2 2214.4h46v46h-46zM1209.2 2214.4h46v46h-46zM1025.2 2260.4h46v46h-46zM1071.2 2260.4h46v46h-46zM1117.2 2260.4h46v46h-46zM1163.2 2260.4h46v46h-46zM1209.2 2260.4h46v46h-46zM1071.2 2306.4h46v46h-46zM1117.2 2306.4h46v46h-46zM1163.2 2306.4h46v46h-46zM1209.2 2306.4h46v46h-46zM1117.2 2352.4h46v46h-46zM1163.2 2352.4h46v46h-46zM1209.2 2352.4h46v46h-46zM1163.2 2398.4h46v46h-46zM1209.2 2398.4h46v46h-46zM1209.2 2444.4h46v46h-46z" fill="none" stroke="#c8c8c8" stroke-width="0.9"/><circle cx="818.2" cy="2053.4" r="20.93" fill="rgb(255,0,0)"/><circle cx="864.2" cy="2053.4" r="13.72" fill="rgb(255,145,145)"/><circle cx="910.2" cy="2053.4" r="12.2" fill="rgb(255,168,168)"/><circle cx="956.2" cy="2053.4" r="15.38" fill="rgb(117,117,255)"/><circle cx="1048.2" cy="2053.4" r="5.13" fill="rgb(255,240,240)"/><circle cx="1140.2" cy="2053.4" r="4.68" fill="rgb(242,242,255)"/><circle cx="1186.2" cy="2053.4" r="5.13" fill="rgb(240,240,255)"/><circle cx="1232.2" cy="2053.4" r="7.25" fill="rgb(255,224,224)"/><circle cx="864.2" cy="2099.4" r="20.93" fill="rgb(255,0,0)"/><circle cx="910.2" cy="2099.4" r="11.08" fill="rgb(255,184,184)"/><circle cx="956.2" cy="2099.4" r="12.56" fill="rgb(163,163,255)"/><circle cx="1094.2" cy="2099.4" r="3.63" fill="rgb(255,247,247)"/><circle cx="1140.2" cy="2099.4" r="7.55" fill="rgb(222,222,255)"/><circle cx="1186.2" cy="2099.4" r="7.83" fill="rgb(255,219,219)"/><circle cx="1232.2" cy="2099.4" r="3.63" fill="rgb(255,247,247)"/><circle cx="910.2" cy="2145.4" r="20.93" fill="rgb(255,0,0)"/><circle cx="956.2" cy="2145.4" r="18.84" fill="rgb(48,48,255)"/><circle cx="1002.2" cy="2145.4" r="12.2" fill="rgb(168,168,255)"/><circle cx="1048.2" cy="2145.4" r="6.94" fill="rgb(227,227,255)"/><circle cx="1094.2" cy="2145.4" r="4.19" fill="rgb(255,245,245)"/><circle cx="1140.2" cy="2145.4" r="4.19" fill="rgb(245,245,255)"/><circle cx="1186.2" cy="2145.4" r="6.94" fill="rgb(255,227,227)"/><circle cx="1232.2" cy="2145.4" r="5.13" fill="rgb(240,240,255)"/><circle cx="956.2" cy="2191.4" r="20.93" fill="rgb(255,0,0)"/><circle cx="1002.2" cy="2191.4" r="10.46" fill="rgb(255,191,191)"/><circle cx="1094.2" cy="2191.4" r="4.19" fill="rgb(245,245,255)"/><circle cx="1140.2" cy="2191.4" r="7.83" fill="rgb(255,219,219)"/><circle cx="1186.2" cy="2191.4" r="4.68" fill="rgb(242,242,255)"/><circle cx="1002.2" cy="2237.4" r="20.93" fill="rgb(255,0,0)"/><circle cx="1048.2" cy="2237.4" r="14.8" fill="rgb(255,128,128)"/><circle cx="1094.2" cy="2237.4" r="7.83" fill="rgb(219,219,255)"/><circle cx="1140.2" cy="2237.4" r="10.04" fill="rgb(255,196,196)"/><circle cx="1186.2" cy="2237.4" r="13.56" fill="rgb(148,148,255)"/><circle cx="1232.2" cy="2237.4" r="17" fill="rgb(255,87,87)"/><circle cx="1048.2" cy="2283.4" r="20.93" fill="rgb(255,0,0)"/><circle cx="1094.2" cy="2283.4" r="14.04" fill="rgb(255,140,140)"/><circle cx="1140.2" cy="2283.4" r="12.73" fill="rgb(255,161,161)"/><circle cx="1186.2" cy="2283.4" r="9.82" fill="rgb(199,199,255)"/><circle cx="1232.2" cy="2283.4" r="15.52" fill="rgb(255,115,115)"/><circle cx="1094.2" cy="2329.4" r="20.93" fill="rgb(255,0,0)"/><circle cx="1186.2" cy="2329.4" r="10.25" fill="rgb(255,194,194)"/><circle cx="1232.2" cy="2329.4" r="11.46" fill="rgb(178,178,255)"/><circle cx="1140.2" cy="2375.4" r="20.93" fill="rgb(255,0,0)"/><circle cx="1186.2" cy="2375.4" r="15.52" fill="rgb(115,115,255)"/><circle cx="1232.2" cy="2375.4" r="9.59" fill="rgb(255,201,201)"/><circle cx="1186.2" cy="2421.4" r="20.93" fill="rgb(255,0,0)"/><circle cx="1232.2" cy="2421.4" r="11.65" fill="rgb(176,176,255)"/><circle cx="1232.2" cy="2467.4" r="20.93" fill="rgb(255,0,0)"/><text x="818.2" y="2063.35" text-anchor="middle" font-size="19.4" stroke="#000" stroke-width="0.25" font-family='"Liberation Sans", sans-serif'>*</text><text x="864.2" y="2063.35" text-anchor="middle" font-size="19.4" stroke="#000" stroke-width="0.25" font-family='"Liberation Sans", sans-serif'>*</text><text x="910.2" y="2063.35" text-anchor="middle" font-size="19.4" stroke="#000" stroke-width="0.25" font-family='"Liberation Sans", sans-serif'>*</text><text x="956.2" y="2063.35" text-anchor="middle" font-size="19.4" stroke="#000" stroke-width="0.25" font-family='"Liberation Sans", sans-serif'>*</text><text x="864.2" y="2109.35" text-anchor="middle" font-size="19.4" stroke="#000" stroke-width="0.25" font-family='"Liberation Sans", sans-serif'>*</text><text x="910.2" y="2109.35" text-anchor="middle" font-size="19.4" stroke="#000" stroke-width="0.25" font-family='"Liberation Sans", sans-serif'>*</text><text x="956.2" y="2109.35" text-anchor="middle" font-size="19.4" stroke="#000" stroke-width="0.25" font-family='"Liberation Sans", sans-serif'>*</text><text x="1186.2" y="2109.35" text-anchor="middle" font-size="19.4" stroke="#000" stroke-width="0.25" font-family='"Liberation Sans", sans-serif'>*</text><text x="910.2" y="2155.35" text-anchor="middle" font-size="19.4" stroke="#000" stroke-width="0.25" font-family='"Liberation Sans", sans-serif'>*</text><text x="956.2" y="2155.35" text-anchor="middle" font-size="19.4" stroke="#000" stroke-width="0.25" font-family='"Liberation Sans", sans-serif'>*</text><text x="1002.2" y="2155.35" text-anchor="middle" font-size="19.4" stroke="#000" stroke-width="0.25" font-family='"Liberation Sans", sans-serif'>*</text><text x="956.2" y="2201.35" text-anchor="middle" font-size="19.4" stroke="#000" stroke-width="0.25" font-family='"Liberation Sans", sans-serif'>*</text><text x="1002.2" y="2201.35" text-anchor="middle" font-size="19.4" stroke="#000" stroke-width="0.25" font-family='"Liberation Sans", sans-serif'>*</text><text x="1140.2" y="2201.35" text-anchor="middle" font-size="19.4" stroke="#000" stroke-width="0.25" font-family='"Liberation Sans", sans-serif'>*</text><text x="1002.2" y="2247.35" text-anchor="middle" font-size="19.4" stroke="#000" stroke-width="0.25" font-family='"Liberation Sans", sans-serif'>*</text><text x="1048.2" y="2247.35" text-anchor="middle" font-size="19.4" stroke="#000" stroke-width="0.25" font-family='"Liberation Sans", sans-serif'>*</text><text x="1094.2" y="2247.35" text-anchor="middle" font-size="19.4" stroke="#000" stroke-width="0.25" font-family='"Liberation Sans", sans-serif'>*</text><text x="1140.2" y="2247.35" text-anchor="middle" font-size="19.4" stroke="#000" stroke-width="0.25" font-family='"Liberation Sans", sans-serif'>*</text><text x="1186.2" y="2247.35" text-anchor="middle" font-size="19.4" stroke="#000" stroke-width="0.25" font-family='"Liberation Sans", sans-serif'>*</text><text x="1232.2" y="2247.35" text-anchor="middle" font-size="19.4" stroke="#000" stroke-width="0.25" font-family='"Liberation Sans", sans-serif'>*</text><text x="1048.2" y="2293.35" text-anchor="middle" font-size="19.4" stroke="#000" stroke-width="0.25" font-family='"Liberation Sans", sans-serif'>*</text><text x="1094.2" y="2293.35" text-anchor="middle" font-size="19.4" stroke="#000" stroke-width="0.25" font-family='"Liberation Sans", sans-serif'>*</text><text x="1140.2" y="2293.35" text-anchor="middle" font-size="19.4" stroke="#000" stroke-width="0.25" font-family='"Liberation Sans", sans-serif'>*</text><text x="1186.2" y="2293.35" text-anchor="middle" font-size="19.4" stroke="#000" stroke-width="0.25" font-family='"Liberation Sans", sans-serif'>*</text><text x="1232.2" y="2293.35" text-anchor="middle" font-size="19.4" stroke="#000" stroke-width="0.25" font-family='"Liberation Sans", sans-serif'>*</text><text x="1094.2" y="2339.35" text-anchor="middle" font-size="19.4" stroke="#000" stroke-width="0.25" font-family='"Liberation Sans", sans-serif'>*</text><text x="1186.2" y="2339.35" text-anchor="middle" font-size="19.4" stroke="#000" stroke-width="0.25" font-family='"Liberation Sans", sans-serif'>*</text><text x="1232.2" y="2339.35" text-anchor="middle" font-size="19.4" stroke="#000" stroke-width="0.25" font-family='"Liberation Sans", sans-serif'>*</text><text x="1140.2" y="2385.35" text-anchor="middle" font-size="19.4" stroke="#000" stroke-width="0.25" font-family='"Liberation Sans", sans-serif'>*</text><text x="1186.2" y="2385.35" text-anchor="middle" font-size="19.4" stroke="#000" stroke-width="0.25" font-family='"Liberation Sans", sans-serif'>*</text><text x="1232.2" y="2385.35" text-anchor="middle" font-size="19.4" stroke="#000" stroke-width="0.25" font-family='"Liberation Sans", sans-serif'>*</text><text x="1186.2" y="2431.35" text-anchor="middle" font-size="19.4" stroke="#000" stroke-width="0.25" font-family='"Liberation Sans", sans-serif'>*</text><text x="1232.2" y="2431.35" text-anchor="middle" font-size="19.4" stroke="#000" stroke-width="0.25" font-family='"Liberation Sans", sans-serif'>*</text><text x="1232.2" y="2477.35" text-anchor="middle" font-size="19.4" stroke="#000" stroke-width="0.25" font-family='"Liberation Sans", sans-serif'>*</text><text x="789.9" y="2054.66" text-anchor="end" font-size="9.6" fill="#333" font-family='"Liberation Sans", sans-serif'>DL_702</text><text x="835.9" y="2100.66" text-anchor="end" font-size="9.6" fill="#333" font-family='"Liberation Sans", sans-serif'>DL_418</text><text x="881.9" y="2146.66" text-anchor="end" font-size="9.6" fill="#333" font-family='"Liberation Sans", sans-serif'>DL_96</text><text x="927.9" y="2192.66" text-anchor="end" font-size="9.6" fill="#333" font-family='"Liberation Sans", sans-serif'>DL_527</text><text x="973.9" y="2238.66" text-anchor="end" font-size="9.6" fill="#333" font-family='"Liberation Sans", sans-serif'>Rad_821</text><text x="1019.9" y="2284.66" text-anchor="end" font-size="9.6" fill="#333" font-family='"Liberation Sans", sans-serif'>Rad_533</text><text x="1065.9" y="2330.66" text-anchor="end" font-size="9.6" fill="#333" font-family='"Liberation Sans", sans-serif'>Rad_798</text><text x="1111.9" y="2376.66" text-anchor="end" font-size="9.6" fill="#333" font-family='"Liberation Sans", sans-serif'>Rad_426</text><text x="1157.9" y="2422.66" text-anchor="end" font-size="9.6" fill="#333" font-family='"Liberation Sans", sans-serif'>Rad_106</text><text x="1203.9" y="2468.66" text-anchor="end" font-size="9.6" fill="#333" font-family='"Liberation Sans", sans-serif'>Rad_95</text><text transform="translate(821.56 2026.6) rotate(-90)" font-size="9.6" fill="#333" font-family='"Liberation Sans", sans-serif'>DL_702</text><text transform="translate(867.56 2026.6) rotate(-90)" font-size="9.6" fill="#333" font-family='"Liberation Sans", sans-serif'>DL_418</text><text transform="translate(913.56 2026.6) rotate(-90)" font-size="9.6" fill="#333" font-family='"Liberation Sans", sans-serif'>DL_96</text><text transform="translate(959.56 2026.6) rotate(-90)" font-size="9.6" fill="#333" font-family='"Liberation Sans", sans-serif'>DL_527</text><text transform="translate(1005.56 2026.6) rotate(-90)" font-size="9.6" fill="#333" font-family='"Liberation Sans", sans-serif'>Rad_821</text><text transform="translate(1051.56 2026.6) rotate(-90)" font-size="9.6" fill="#333" font-family='"Liberation Sans", sans-serif'>Rad_533</text><text transform="translate(1097.56 2026.6) rotate(-90)" font-size="9.6" fill="#333" font-family='"Liberation Sans", sans-serif'>Rad_798</text><text transform="translate(1143.56 2026.6) rotate(-90)" font-size="9.6" fill="#333" font-family='"Liberation Sans", sans-serif'>Rad_426</text><text transform="translate(1189.56 2026.6) rotate(-90)" font-size="9.6" fill="#333" font-family='"Liberation Sans", sans-serif'>Rad_106</text><text transform="translate(1235.56 2026.6) rotate(-90)" font-size="9.6" fill="#333" font-family='"Liberation Sans", sans-serif'>Rad_95</text><rect x="1263.6" y="2030.5" width="17.1" height="9.5" fill="rgb(255,10,10)"/><rect x="1263.6" y="2039.7" width="17.1" height="9.5" fill="rgb(255,20,20)"/><rect x="1263.6" y="2048.9" width="17.1" height="9.5" fill="rgb(255,31,31)"/><rect x="1263.6" y="2058.1" width="17.1" height="9.5" fill="rgb(255,41,41)"/><rect x="1263.6" y="2067.3" width="17.1" height="9.5" fill="rgb(255,51,51)"/><rect x="1263.6" y="2076.5" width="17.1" height="9.5" fill="rgb(255,61,61)"/><rect x="1263.6" y="2085.7" width="17.1" height="9.5" fill="rgb(255,71,71)"/><rect x="1263.6" y="2094.9" width="17.1" height="9.5" fill="rgb(255,82,82)"/><rect x="1263.6" y="2104.1" width="17.1" height="9.5" fill="rgb(255,92,92)"/><rect x="1263.6" y="2113.3" width="17.1" height="9.5" fill="rgb(255,102,102)"/><rect x="1263.6" y="2122.5" width="17.1" height="9.5" fill="rgb(255,112,112)"/><rect x="1263.6" y="2131.7" width="17.1" height="9.5" fill="rgb(255,122,122)"/><rect x="1263.6" y="2140.9" width="17.1" height="9.5" fill="rgb(255,133,133)"/><rect x="1263.6" y="2150.1" width="17.1" height="9.5" fill="rgb(255,143,143)"/><rect x="1263.6" y="2159.3" width="17.1" height="9.5" fill="rgb(255,153,153)"/><rect x="1263.6" y="2168.5" width="17.1" height="9.5" fill="rgb(255,163,163)"/><rect x="1263.6" y="2177.7" width="17.1" height="9.5" fill="rgb(255,173,173)"/><rect x="1263.6" y="2186.9" width="17.1" height="9.5" fill="rgb(255,184,184)"/><rect x="1263.6" y="2196.1" width="17.1" height="9.5" fill="rgb(255,194,194)"/><rect x="1263.6" y="2205.3" width="17.1" height="9.5" fill="rgb(255,204,204)"/><rect x="1263.6" y="2214.5" width="17.1" height="9.5" fill="rgb(255,214,214)"/><rect x="1263.6" y="2223.7" width="17.1" height="9.5" fill="rgb(255,224,224)"/><rect x="1263.6" y="2232.9" width="17.1" height="9.5" fill="rgb(255,235,235)"/><rect x="1263.6" y="2242.1" width="17.1" height="9.5" fill="rgb(255,245,245)"/><rect x="1263.6" y="2251.3" width="17.1" height="9.5" fill="rgb(255,255,255)"/><rect x="1263.6" y="2260.5" width="17.1" height="9.5" fill="rgb(255,255,255)"/><rect x="1263.6" y="2269.7" width="17.1" height="9.5" fill="rgb(245,245,255)"/><rect x="1263.6" y="2278.9" width="17.1" height="9.5" fill="rgb(235,235,255)"/><rect x="1263.6" y="2288.1" width="17.1" height="9.5" fill="rgb(224,224,255)"/><rect x="1263.6" y="2297.3" width="17.1" height="9.5" fill="rgb(214,214,255)"/><rect x="1263.6" y="2306.5" width="17.1" height="9.5" fill="rgb(204,204,255)"/><rect x="1263.6" y="2315.7" width="17.1" height="9.5" fill="rgb(194,194,255)"/><rect x="1263.6" y="2324.9" width="17.1" height="9.5" fill="rgb(184,184,255)"/><rect x="1263.6" y="2334.1" width="17.1" height="9.5" fill="rgb(173,173,255)"/><rect x="1263.6" y="2343.3" width="17.1" height="9.5" fill="rgb(163,163,255)"/><rect x="1263.6" y="2352.5" width="17.1" height="9.5" fill="rgb(153,153,255)"/><rect x="1263.6" y="2361.7" width="17.1" height="9.5" fill="rgb(143,143,255)"/><rect x="1263.6" y="2370.9" width="17.1" height="9.5" fill="rgb(133,133,255)"/><rect x="1263.6" y="2380.1" width="17.1" height="9.5" fill="rgb(122,122,255)"/><rect x="1263.6" y="2389.3" width="17.1" height="9.5" fill="rgb(112,112,255)"/><rect x="1263.6" y="2398.5" width="17.1" height="9.5" fill="rgb(102,102,255)"/><rect x="1263.6" y="2407.7" width="17.1" height="9.5" fill="rgb(92,92,255)"/><rect x="1263.6" y="2416.9" width="17.1" height="9.5" fill="rgb(82,82,255)"/><rect x="1263.6" y="2426.1" width="17.1" height="9.5" fill="rgb(71,71,255)"/><rect x="1263.6" y="2435.3" width="17.1" height="9.5" fill="rgb(61,61,255)"/><rect x="1263.6" y="2444.5" width="17.1" height="9.5" fill="rgb(51,51,255)"/><rect x="1263.6" y="2453.7" width="17.1" height="9.5" fill="rgb(41,41,255)"/><rect x="1263.6" y="2462.9" width="17.1" height="9.5" fill="rgb(31,31,255)"/><rect x="1263.6" y="2472.1" width="17.1" height="9.5" fill="rgb(20,20,255)"/><rect x="1263.6" y="2481.3" width="17.1" height="9.5" fill="rgb(10,10,255)"/><rect x="1263.6" y="2030.5" width="17.1" height="460" fill="none" stroke="#555" stroke-width="0.8"/><path d="M1280.7 2030.5h3.3" stroke="#444" stroke-width="0.8"/><text x="1300.7" y="2033.9" text-anchor="middle" font-size="9.6" fill="#333" font-family='"Liberation Sans", sans-serif'>1</text><path d="M1280.7 2076.5h3.3" stroke="#444" stroke-width="0.8"/><text x="1300.7" y="2079.9" text-anchor="middle" font-size="9.6" fill="#333" font-family='"Liberation Sans", sans-serif'>0.8</text><path d="M1280.7 2122.5h3.3" stroke="#444" stroke-width="0.8"/><text x="1300.7" y="2125.9" text-anchor="middle" font-size="9.6" fill="#333" font-family='"Liberation Sans", sans-serif'>0.6</text><path d="M1280.7 2168.5h3.3" stroke="#444" stroke-width="0.8"/><text x="1300.7" y="2171.9" text-anchor="middle" font-size="9.6" fill="#333" font-family='"Liberation Sans", sans-serif'>0.4</text><path d="M1280.7 2214.5h3.3" stroke="#444" stroke-width="0.8"/><text x="1300.7" y="2217.9" text-anchor="middle" font-size="9.6" fill="#333" font-family='"Liberation Sans", sans-serif'>0.2</text><path d="M1280.7 2260.5h3.3" stroke="#444" stroke-width="0.8"/><text x="1300.7" y="2263.9" text-anchor="middle" font-size="9.6" fill="#333" font-family='"Liberation Sans", sans-serif'>0</text><path d="M1280.7 2306.5h3.3" stroke="#444" stroke-width="0.8"/><text x="1300.7" y="2309.9" text-anchor="middle" font-size="9.6" fill="#333" font-family='"Liberation Sans", sans-serif'>-0.2</text><path d="M1280.7 2352.5h3.3" stroke="#444" stroke-width="0.8"/><text x="1300.7" y="2355.9" text-anchor="middle" font-size="9.6" fill="#333" font-family='"Liberation Sans", sans-serif'>-0.4</text><path d="M1280.7 2398.5h3.3" stroke="#444" stroke-width="0.8"/><text x="1300.7" y="2401.9" text-anchor="middle" font-size="9.6" fill="#333" font-family='"Liberation Sans", sans-serif'>-0.6</text><path d="M1280.7 2444.5h3.3" stroke="#444" stroke-width="0.8"/><text x="1300.7" y="2447.9" text-anchor="middle" font-size="9.6" fill="#333" font-family='"Liberation Sans", sans-serif'>-0.8</text><path d="M1280.7 2490.5h3.3" stroke="#444" stroke-width="0.8"/><text x="1300.7" y="2493.9" text-anchor="middle" font-size="9.6" fill="#333" font-family='"Liberation Sans", sans-serif'>-1</text><text transform="translate(722.5 1955) scale(0.96 1)" font-size="35.3" font-weight="bold" font-family='"Liberation Sans", sans-serif'>E</text>
</svg>
</body></html>
